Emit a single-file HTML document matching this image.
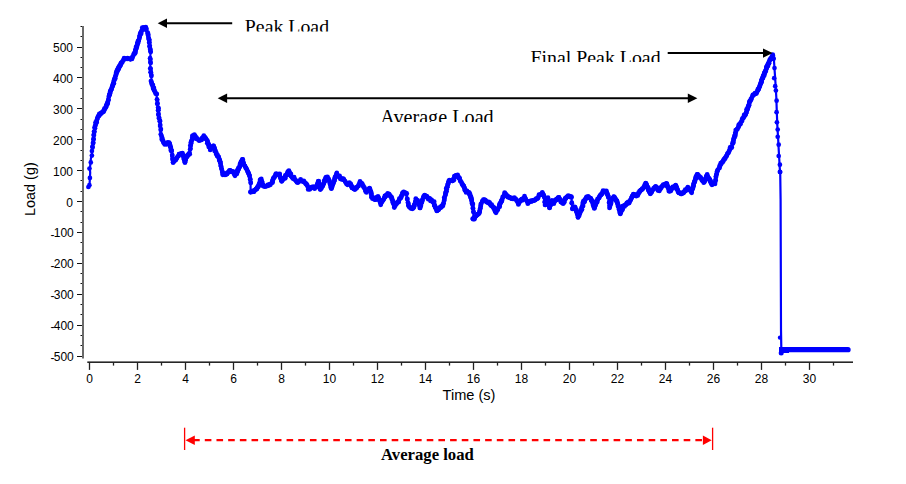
<!DOCTYPE html>
<html><head><meta charset="utf-8"><style>
html,body{margin:0;padding:0;background:#fff;}
svg{display:block;}
.tl{font-family:"Liberation Sans",Arial,sans-serif;font-size:12px;fill:#000;}
.ax{font-family:"Liberation Sans",Arial,sans-serif;font-size:14.6px;fill:#000;}
.an{font-family:"Liberation Serif","Times New Roman",serif;font-size:19.85px;fill:#000;}
.bl{font-family:"Liberation Serif","Times New Roman",serif;font-size:16.7px;font-weight:bold;fill:#000;}
</style></head><body>
<svg width="906" height="484" viewBox="0 0 906 484">
<rect width="906" height="484" fill="#fff"/>
<rect x="82" y="26" width="2" height="332.5" fill="#6a6a6a"/>
<rect x="87.3" y="361.4" width="765.7" height="1.6" fill="#262626"/>
<line x1="77" y1="356.50" x2="82" y2="356.50" stroke="#111" stroke-width="1"/>
<text x="73" y="361.00" class="tl" text-anchor="end"><tspan dx="0.8" dy="1.2">-</tspan><tspan dx="-0.8" dy="-1.2">500</tspan></text>
<line x1="77" y1="325.50" x2="82" y2="325.50" stroke="#111" stroke-width="1"/>
<text x="73" y="330.10" class="tl" text-anchor="end"><tspan dx="0.8" dy="1.2">-</tspan><tspan dx="-0.8" dy="-1.2">400</tspan></text>
<line x1="77" y1="294.50" x2="82" y2="294.50" stroke="#111" stroke-width="1"/>
<text x="73" y="299.20" class="tl" text-anchor="end"><tspan dx="0.8" dy="1.2">-</tspan><tspan dx="-0.8" dy="-1.2">300</tspan></text>
<line x1="77" y1="263.50" x2="82" y2="263.50" stroke="#111" stroke-width="1"/>
<text x="73" y="268.30" class="tl" text-anchor="end"><tspan dx="0.8" dy="1.2">-</tspan><tspan dx="-0.8" dy="-1.2">200</tspan></text>
<line x1="77" y1="232.50" x2="82" y2="232.50" stroke="#111" stroke-width="1"/>
<text x="73" y="237.40" class="tl" text-anchor="end"><tspan dx="0.8" dy="1.2">-</tspan><tspan dx="-0.8" dy="-1.2">100</tspan></text>
<line x1="77" y1="201.50" x2="82" y2="201.50" stroke="#111" stroke-width="1"/>
<text x="73" y="206.50" class="tl" text-anchor="end">0</text>
<line x1="77" y1="170.50" x2="82" y2="170.50" stroke="#111" stroke-width="1"/>
<text x="73" y="175.60" class="tl" text-anchor="end">100</text>
<line x1="77" y1="139.50" x2="82" y2="139.50" stroke="#111" stroke-width="1"/>
<text x="73" y="144.70" class="tl" text-anchor="end">200</text>
<line x1="77" y1="108.50" x2="82" y2="108.50" stroke="#111" stroke-width="1"/>
<text x="73" y="113.80" class="tl" text-anchor="end">300</text>
<line x1="77" y1="77.50" x2="82" y2="77.50" stroke="#111" stroke-width="1"/>
<text x="73" y="82.90" class="tl" text-anchor="end">400</text>
<line x1="77" y1="47.50" x2="82" y2="47.50" stroke="#111" stroke-width="1"/>
<text x="73" y="52.00" class="tl" text-anchor="end">500</text>
<line x1="80.5" y1="345.50" x2="82" y2="345.50" stroke="#111" stroke-width="1"/>
<line x1="80.5" y1="335.50" x2="82" y2="335.50" stroke="#111" stroke-width="1"/>
<line x1="80.5" y1="314.50" x2="82" y2="314.50" stroke="#111" stroke-width="1"/>
<line x1="80.5" y1="304.50" x2="82" y2="304.50" stroke="#111" stroke-width="1"/>
<line x1="80.5" y1="283.50" x2="82" y2="283.50" stroke="#111" stroke-width="1"/>
<line x1="80.5" y1="273.50" x2="82" y2="273.50" stroke="#111" stroke-width="1"/>
<line x1="80.5" y1="253.50" x2="82" y2="253.50" stroke="#111" stroke-width="1"/>
<line x1="80.5" y1="242.50" x2="82" y2="242.50" stroke="#111" stroke-width="1"/>
<line x1="80.5" y1="222.50" x2="82" y2="222.50" stroke="#111" stroke-width="1"/>
<line x1="80.5" y1="211.50" x2="82" y2="211.50" stroke="#111" stroke-width="1"/>
<line x1="80.5" y1="191.50" x2="82" y2="191.50" stroke="#111" stroke-width="1"/>
<line x1="80.5" y1="180.50" x2="82" y2="180.50" stroke="#111" stroke-width="1"/>
<line x1="80.5" y1="160.50" x2="82" y2="160.50" stroke="#111" stroke-width="1"/>
<line x1="80.5" y1="150.50" x2="82" y2="150.50" stroke="#111" stroke-width="1"/>
<line x1="80.5" y1="129.50" x2="82" y2="129.50" stroke="#111" stroke-width="1"/>
<line x1="80.5" y1="119.50" x2="82" y2="119.50" stroke="#111" stroke-width="1"/>
<line x1="80.5" y1="98.50" x2="82" y2="98.50" stroke="#111" stroke-width="1"/>
<line x1="80.5" y1="88.50" x2="82" y2="88.50" stroke="#111" stroke-width="1"/>
<line x1="80.5" y1="67.50" x2="82" y2="67.50" stroke="#111" stroke-width="1"/>
<line x1="80.5" y1="57.50" x2="82" y2="57.50" stroke="#111" stroke-width="1"/>
<line x1="80.5" y1="36.50" x2="82" y2="36.50" stroke="#111" stroke-width="1"/>
<line x1="80.5" y1="26.50" x2="82" y2="26.50" stroke="#111" stroke-width="1"/>
<line x1="89.50" y1="362" x2="89.50" y2="369.9" stroke="#222" stroke-width="1.3"/>
<text x="89.50" y="383.2" class="tl" text-anchor="middle">0</text>
<line x1="113.50" y1="362" x2="113.50" y2="365.6" stroke="#222" stroke-width="1.3"/>
<line x1="137.50" y1="362" x2="137.50" y2="369.9" stroke="#222" stroke-width="1.3"/>
<text x="137.50" y="383.2" class="tl" text-anchor="middle">2</text>
<line x1="161.50" y1="362" x2="161.50" y2="365.6" stroke="#222" stroke-width="1.3"/>
<line x1="185.50" y1="362" x2="185.50" y2="369.9" stroke="#222" stroke-width="1.3"/>
<text x="185.50" y="383.2" class="tl" text-anchor="middle">4</text>
<line x1="209.50" y1="362" x2="209.50" y2="365.6" stroke="#222" stroke-width="1.3"/>
<line x1="233.50" y1="362" x2="233.50" y2="369.9" stroke="#222" stroke-width="1.3"/>
<text x="233.50" y="383.2" class="tl" text-anchor="middle">6</text>
<line x1="257.50" y1="362" x2="257.50" y2="365.6" stroke="#222" stroke-width="1.3"/>
<line x1="281.50" y1="362" x2="281.50" y2="369.9" stroke="#222" stroke-width="1.3"/>
<text x="281.50" y="383.2" class="tl" text-anchor="middle">8</text>
<line x1="305.50" y1="362" x2="305.50" y2="365.6" stroke="#222" stroke-width="1.3"/>
<line x1="329.50" y1="362" x2="329.50" y2="369.9" stroke="#222" stroke-width="1.3"/>
<text x="329.50" y="383.2" class="tl" text-anchor="middle">10</text>
<line x1="353.50" y1="362" x2="353.50" y2="365.6" stroke="#222" stroke-width="1.3"/>
<line x1="377.50" y1="362" x2="377.50" y2="369.9" stroke="#222" stroke-width="1.3"/>
<text x="377.50" y="383.2" class="tl" text-anchor="middle">12</text>
<line x1="401.50" y1="362" x2="401.50" y2="365.6" stroke="#222" stroke-width="1.3"/>
<line x1="425.50" y1="362" x2="425.50" y2="369.9" stroke="#222" stroke-width="1.3"/>
<text x="425.50" y="383.2" class="tl" text-anchor="middle">14</text>
<line x1="449.50" y1="362" x2="449.50" y2="365.6" stroke="#222" stroke-width="1.3"/>
<line x1="473.50" y1="362" x2="473.50" y2="369.9" stroke="#222" stroke-width="1.3"/>
<text x="473.50" y="383.2" class="tl" text-anchor="middle">16</text>
<line x1="497.50" y1="362" x2="497.50" y2="365.6" stroke="#222" stroke-width="1.3"/>
<line x1="521.50" y1="362" x2="521.50" y2="369.9" stroke="#222" stroke-width="1.3"/>
<text x="521.50" y="383.2" class="tl" text-anchor="middle">18</text>
<line x1="545.50" y1="362" x2="545.50" y2="365.6" stroke="#222" stroke-width="1.3"/>
<line x1="569.50" y1="362" x2="569.50" y2="369.9" stroke="#222" stroke-width="1.3"/>
<text x="569.50" y="383.2" class="tl" text-anchor="middle">20</text>
<line x1="593.50" y1="362" x2="593.50" y2="365.6" stroke="#222" stroke-width="1.3"/>
<line x1="617.50" y1="362" x2="617.50" y2="369.9" stroke="#222" stroke-width="1.3"/>
<text x="617.50" y="383.2" class="tl" text-anchor="middle">22</text>
<line x1="641.50" y1="362" x2="641.50" y2="365.6" stroke="#222" stroke-width="1.3"/>
<line x1="665.50" y1="362" x2="665.50" y2="369.9" stroke="#222" stroke-width="1.3"/>
<text x="665.50" y="383.2" class="tl" text-anchor="middle">24</text>
<line x1="689.50" y1="362" x2="689.50" y2="365.6" stroke="#222" stroke-width="1.3"/>
<line x1="713.50" y1="362" x2="713.50" y2="369.9" stroke="#222" stroke-width="1.3"/>
<text x="713.50" y="383.2" class="tl" text-anchor="middle">26</text>
<line x1="737.50" y1="362" x2="737.50" y2="365.6" stroke="#222" stroke-width="1.3"/>
<line x1="761.50" y1="362" x2="761.50" y2="369.9" stroke="#222" stroke-width="1.3"/>
<text x="761.50" y="383.2" class="tl" text-anchor="middle">28</text>
<line x1="785.50" y1="362" x2="785.50" y2="365.6" stroke="#222" stroke-width="1.3"/>
<line x1="809.50" y1="362" x2="809.50" y2="369.9" stroke="#222" stroke-width="1.3"/>
<text x="809.50" y="383.2" class="tl" text-anchor="middle">30</text>
<line x1="833.50" y1="362" x2="833.50" y2="365.6" stroke="#222" stroke-width="1.3"/>
<text x="469" y="400" class="ax" text-anchor="middle">Time (s)</text>
<text transform="translate(34.9,215.9) rotate(-90)" class="ax" style="font-size:14.4px">Load (g)</text>
<polyline points="88.4,187.0 89.6,184.0 89.9,177.9 90.2,172.7 89.8,168.6 90.6,162.4 90.9,158.3 91.9,155.2 92.1,151.0 92.6,147.5 94.0,135.1 95.5,124.8 97.6,117.6 100.7,113.4 103.8,111.4 105.8,107.2 107.9,102.0 108.9,96.4 113.0,84.0 116.2,73.7 120.3,64.4 124.4,58.8 129.6,58.8 131.0,59.3 134.1,54.1 136.9,46.9 139.0,39.6 140.9,32.4 142.7,28.6 145.0,27.6 147.0,29.2 147.7,33.4 149.0,39.6 149.8,45.8 150.7,52.0 150.1,58.2 150.3,62.1 150.3,68.3 151.4,76.0 151.4,81.7 152.9,86.9 154.5,91.0 156.5,94.1 157.0,99.3 157.6,103.4 158.1,107.5 158.1,110.3 160.2,124.8 161.2,135.1 162.6,140.3 164.7,144.4 167.8,142.4 169.9,144.4 171.7,151.0 173.1,162.4 176.2,159.3 179.3,154.1 182.4,153.1 184.9,162.4 186.5,156.2 189.6,153.1 190.7,145.8 192.7,135.5 194.8,135.5 197.9,139.6 201.0,140.7 204.1,136.1 207.2,140.7 210.3,148.9 213.4,145.8 215.5,151.0 218.6,157.2 220.6,163.4 222.7,174.8 225.8,174.8 229.9,170.6 233.0,171.7 235.7,175.8 239.2,167.5 242.3,159.3 244.0,164.4 247.5,170.6 249.5,175.8 250.6,182.0 250.6,192.3 253.7,191.3 257.8,187.1 261.3,178.9 263.0,186.1 267.1,186.1 271.4,184.4 273.4,178.2 276.5,174.1 279.6,175.1 281.7,181.3 284.8,177.2 288.9,170.6 291.0,176.2 294.1,178.2 297.2,182.4 300.3,180.3 303.4,181.3 306.5,184.4 308.6,188.6 312.7,187.5 315.8,187.5 318.5,181.3 320.3,189.6 323.0,185.5 326.1,177.2 328.6,178.2 331.3,188.6 334.0,181.3 336.4,174.1 339.5,177.2 342.6,179.3 344.7,180.3 346.8,184.4 349.9,182.4 351.9,187.5 355.0,189.6 357.1,187.5 360.3,182.0 363.4,186.2 366.5,192.4 369.6,188.2 371.7,196.5 374.8,199.6 377.9,196.5 381.0,203.7 384.1,198.6 387.2,194.4 390.3,195.5 392.4,199.6 394.4,206.8 397.5,202.7 400.6,197.5 404.1,190.9 406.8,195.5 408.5,205.8 411.0,208.9 414.0,206.8 416.1,199.6 418.2,200.6 420.2,207.9 422.3,199.6 424.4,195.5 427.5,197.5 430.6,199.6 433.7,202.7 436.8,211.0 439.9,207.9 443.0,205.8 445.2,195.5 447.2,187.2 449.3,180.0 452.4,181.0 454.5,176.9 457.6,174.8 460.7,181.0 463.8,186.2 465.8,191.3 468.9,192.4 471.0,198.6 472.6,204.8 473.5,212.0 473.1,219.2 476.2,216.1 479.3,213.0 481.3,203.7 483.4,199.6 486.5,201.7 489.6,203.7 492.7,206.8 495.8,212.0 498.9,206.8 502.0,199.6 505.1,193.4 508.2,196.5 511.3,198.6 514.4,197.5 518.5,203.7 521.6,199.6 524.7,197.5 527.8,202.7 530.9,201.7 534.0,200.6 537.2,198.6 539.3,195.5 542.4,193.0 544.5,197.5 545.5,204.8 547.6,198.6 549.6,207.9 551.7,200.6 553.8,203.7 555.8,199.6 558.9,197.5 561.0,201.7 563.1,203.7 565.1,198.6 568.2,195.5 571.3,196.5 572.4,208.9 574.4,206.8 576.5,209.9 577.9,217.1 580.6,212.0 582.7,204.8 584.8,199.6 587.9,197.1 590.9,198.6 593.0,203.7 594.5,207.9 597.1,200.6 600.2,195.5 603.3,191.3 606.4,190.9 608.5,197.5 609.5,207.9 611.6,199.6 613.7,196.5 616.8,200.6 618.8,207.9 620.3,214.0 623.1,206.4 626.2,204.4 629.3,202.3 631.4,198.2 633.4,194.0 636.5,196.1 639.6,191.0 642.7,188.9 645.8,183.3 647.9,187.9 650.6,193.6 653.1,188.9 656.2,185.8 659.3,191.0 662.4,185.8 666.5,183.3 669.6,191.0 672.7,187.9 675.8,185.8 678.9,193.0 682.0,193.0 685.1,191.0 688.2,187.9 691.3,192.0 694.4,181.7 697.5,174.4 700.6,177.5 703.7,182.7 706.8,175.5 709.9,179.6 711.9,184.8 715.0,182.7 717.1,171.3 719.6,167.1 722.7,161.0 725.8,156.8 728.9,151.7 732.0,145.5 734.1,138.2 736.2,131.0 739.3,124.8 742.4,119.6 745.5,114.5 747.5,109.3 749.8,101.1 753.1,95.3 757.2,92.0 759.7,86.2 761.3,81.2 763.8,74.6 766.3,68.8 768.8,62.2 771.2,57.3 772.9,55.6 774.0,61.0 774.6,70.0 775.4,82.0 776.3,97.0 776.8,112.0 777.3,125.0 778.2,140.0 779.0,155.0 779.9,170.0 780.2,172.0" fill="none" stroke="#0000ff" stroke-width="2.2" stroke-linejoin="round" stroke-linecap="round"/>
<g fill="#0000ff"><circle cx="92.6" cy="147.5" r="2.35"/><circle cx="92.4" cy="146.6" r="2.35"/><circle cx="93.1" cy="143.4" r="2.35"/><circle cx="93.2" cy="142.3" r="2.35"/><circle cx="93.5" cy="139.2" r="2.35"/><circle cx="93.6" cy="138.9" r="2.35"/><circle cx="94.0" cy="135.1" r="2.35"/><circle cx="93.6" cy="135.1" r="2.35"/><circle cx="94.5" cy="131.7" r="2.35"/><circle cx="94.0" cy="131.5" r="2.35"/><circle cx="95.0" cy="128.2" r="2.35"/><circle cx="94.6" cy="127.2" r="2.35"/><circle cx="95.5" cy="124.8" r="2.35"/><circle cx="95.4" cy="125.6" r="2.35"/><circle cx="96.0" cy="123.0" r="2.35"/><circle cx="95.6" cy="122.3" r="2.35"/><circle cx="96.5" cy="121.2" r="2.35"/><circle cx="96.7" cy="122.4" r="2.35"/><circle cx="97.1" cy="119.4" r="2.35"/><circle cx="97.2" cy="119.1" r="2.35"/><circle cx="97.6" cy="117.6" r="2.35"/><circle cx="98.1" cy="116.4" r="2.35"/><circle cx="98.6" cy="116.2" r="2.35"/><circle cx="99.0" cy="115.7" r="2.35"/><circle cx="99.7" cy="114.8" r="2.35"/><circle cx="99.3" cy="113.8" r="2.35"/><circle cx="100.7" cy="113.4" r="2.35"/><circle cx="100.5" cy="114.2" r="2.35"/><circle cx="101.7" cy="112.7" r="2.35"/><circle cx="101.4" cy="112.9" r="2.35"/><circle cx="102.8" cy="112.1" r="2.35"/><circle cx="102.9" cy="111.7" r="2.35"/><circle cx="103.8" cy="111.4" r="2.35"/><circle cx="103.8" cy="110.3" r="2.35"/><circle cx="104.8" cy="109.3" r="2.35"/><circle cx="104.4" cy="108.5" r="2.35"/><circle cx="105.8" cy="107.2" r="2.35"/><circle cx="106.0" cy="107.0" r="2.35"/><circle cx="106.3" cy="105.9" r="2.35"/><circle cx="106.1" cy="106.1" r="2.35"/><circle cx="106.8" cy="104.6" r="2.35"/><circle cx="106.8" cy="104.1" r="2.35"/><circle cx="107.4" cy="103.3" r="2.35"/><circle cx="107.7" cy="103.8" r="2.35"/><circle cx="107.9" cy="102.0" r="2.35"/><circle cx="107.6" cy="102.2" r="2.35"/><circle cx="108.4" cy="99.2" r="2.35"/><circle cx="108.4" cy="100.2" r="2.35"/><circle cx="108.9" cy="96.4" r="2.35"/><circle cx="109.1" cy="95.8" r="2.35"/><circle cx="109.4" cy="94.9" r="2.35"/><circle cx="109.9" cy="93.9" r="2.35"/><circle cx="109.9" cy="93.3" r="2.35"/><circle cx="109.8" cy="94.0" r="2.35"/><circle cx="110.4" cy="91.8" r="2.35"/><circle cx="110.1" cy="91.7" r="2.35"/><circle cx="111.0" cy="90.2" r="2.35"/><circle cx="110.5" cy="90.6" r="2.35"/><circle cx="111.5" cy="88.7" r="2.35"/><circle cx="111.7" cy="88.8" r="2.35"/><circle cx="112.0" cy="87.1" r="2.35"/><circle cx="112.4" cy="86.6" r="2.35"/><circle cx="112.5" cy="85.5" r="2.35"/><circle cx="112.7" cy="85.8" r="2.35"/><circle cx="113.0" cy="84.0" r="2.35"/><circle cx="113.1" cy="83.9" r="2.35"/><circle cx="113.5" cy="82.3" r="2.35"/><circle cx="113.9" cy="83.4" r="2.35"/><circle cx="114.1" cy="80.6" r="2.35"/><circle cx="114.0" cy="81.0" r="2.35"/><circle cx="114.6" cy="78.8" r="2.35"/><circle cx="114.2" cy="79.4" r="2.35"/><circle cx="115.1" cy="77.1" r="2.35"/><circle cx="115.3" cy="78.4" r="2.35"/><circle cx="115.7" cy="75.4" r="2.35"/><circle cx="116.0" cy="74.9" r="2.35"/><circle cx="116.2" cy="73.7" r="2.35"/><circle cx="116.1" cy="74.1" r="2.35"/><circle cx="116.7" cy="72.5" r="2.35"/><circle cx="116.2" cy="72.4" r="2.35"/><circle cx="117.2" cy="71.4" r="2.35"/><circle cx="116.9" cy="70.4" r="2.35"/><circle cx="117.7" cy="70.2" r="2.35"/><circle cx="117.3" cy="70.9" r="2.35"/><circle cx="118.2" cy="69.1" r="2.35"/><circle cx="117.9" cy="68.4" r="2.35"/><circle cx="118.8" cy="67.9" r="2.35"/><circle cx="118.7" cy="68.9" r="2.35"/><circle cx="119.3" cy="66.7" r="2.35"/><circle cx="118.9" cy="66.6" r="2.35"/><circle cx="119.8" cy="65.6" r="2.35"/><circle cx="119.8" cy="66.6" r="2.35"/><circle cx="120.3" cy="64.4" r="2.35"/><circle cx="120.6" cy="65.3" r="2.35"/><circle cx="121.3" cy="63.0" r="2.35"/><circle cx="121.1" cy="62.8" r="2.35"/><circle cx="122.3" cy="61.6" r="2.35"/><circle cx="122.2" cy="62.6" r="2.35"/><circle cx="123.4" cy="60.2" r="2.35"/><circle cx="123.8" cy="59.3" r="2.35"/><circle cx="124.4" cy="58.8" r="2.35"/><circle cx="124.1" cy="58.1" r="2.35"/><circle cx="126.0" cy="58.8" r="2.35"/><circle cx="125.7" cy="58.8" r="2.35"/><circle cx="127.5" cy="58.8" r="2.35"/><circle cx="127.6" cy="58.2" r="2.35"/><circle cx="129.1" cy="58.8" r="2.35"/><circle cx="128.6" cy="58.6" r="2.35"/><circle cx="130.5" cy="59.1" r="2.35"/><circle cx="130.4" cy="59.3" r="2.35"/><circle cx="131.5" cy="58.4" r="2.35"/><circle cx="132.0" cy="58.9" r="2.35"/><circle cx="132.6" cy="56.7" r="2.35"/><circle cx="132.6" cy="57.0" r="2.35"/><circle cx="133.6" cy="55.0" r="2.35"/><circle cx="133.8" cy="53.8" r="2.35"/><circle cx="134.6" cy="52.9" r="2.35"/><circle cx="135.0" cy="53.6" r="2.35"/><circle cx="135.0" cy="51.7" r="2.35"/><circle cx="135.4" cy="52.5" r="2.35"/><circle cx="135.5" cy="50.5" r="2.35"/><circle cx="135.4" cy="50.2" r="2.35"/><circle cx="136.0" cy="49.3" r="2.35"/><circle cx="135.6" cy="49.6" r="2.35"/><circle cx="136.4" cy="48.1" r="2.35"/><circle cx="136.0" cy="47.0" r="2.35"/><circle cx="136.9" cy="46.9" r="2.35"/><circle cx="136.6" cy="46.0" r="2.35"/><circle cx="137.4" cy="45.1" r="2.35"/><circle cx="137.3" cy="43.9" r="2.35"/><circle cx="137.9" cy="43.2" r="2.35"/><circle cx="137.5" cy="42.3" r="2.35"/><circle cx="138.5" cy="41.4" r="2.35"/><circle cx="138.1" cy="41.1" r="2.35"/><circle cx="139.0" cy="39.6" r="2.35"/><circle cx="138.5" cy="40.6" r="2.35"/><circle cx="139.5" cy="37.8" r="2.35"/><circle cx="139.6" cy="36.9" r="2.35"/><circle cx="139.9" cy="36.0" r="2.35"/><circle cx="139.7" cy="35.6" r="2.35"/><circle cx="140.4" cy="34.2" r="2.35"/><circle cx="140.3" cy="33.2" r="2.35"/><circle cx="140.9" cy="32.4" r="2.35"/><circle cx="141.2" cy="33.7" r="2.35"/><circle cx="141.8" cy="30.5" r="2.35"/><circle cx="141.8" cy="30.5" r="2.35"/><circle cx="142.7" cy="28.6" r="2.35"/><circle cx="142.3" cy="27.6" r="2.35"/><circle cx="144.1" cy="28.0" r="2.35"/><circle cx="143.9" cy="27.4" r="2.35"/><circle cx="145.5" cy="28.0" r="2.35"/><circle cx="145.8" cy="27.1" r="2.35"/><circle cx="146.5" cy="28.8" r="2.35"/><circle cx="146.0" cy="30.0" r="2.35"/><circle cx="147.7" cy="33.4" r="2.35"/><circle cx="147.7" cy="32.5" r="2.35"/><circle cx="148.1" cy="35.5" r="2.35"/><circle cx="148.2" cy="34.2" r="2.35"/><circle cx="148.6" cy="37.5" r="2.35"/><circle cx="148.6" cy="38.8" r="2.35"/><circle cx="149.0" cy="39.6" r="2.35"/><circle cx="149.4" cy="40.1" r="2.35"/><circle cx="149.4" cy="42.7" r="2.35"/><circle cx="149.2" cy="42.4" r="2.35"/><circle cx="149.8" cy="45.8" r="2.35"/><circle cx="149.5" cy="46.5" r="2.35"/><circle cx="150.2" cy="48.9" r="2.35"/><circle cx="150.3" cy="49.6" r="2.35"/><circle cx="150.7" cy="52.0" r="2.35"/><circle cx="150.5" cy="51.3" r="2.35"/><circle cx="150.1" cy="58.2" r="2.35"/><circle cx="150.4" cy="59.5" r="2.35"/><circle cx="150.3" cy="62.1" r="2.35"/><circle cx="150.7" cy="62.9" r="2.35"/><circle cx="150.3" cy="68.3" r="2.35"/><circle cx="150.6" cy="68.9" r="2.35"/><circle cx="150.9" cy="72.2" r="2.35"/><circle cx="150.6" cy="72.2" r="2.35"/><circle cx="151.4" cy="76.0" r="2.35"/><circle cx="151.3" cy="74.8" r="2.35"/><circle cx="151.4" cy="81.7" r="2.35"/><circle cx="150.9" cy="81.1" r="2.35"/><circle cx="151.9" cy="83.4" r="2.35"/><circle cx="151.7" cy="83.9" r="2.35"/><circle cx="152.4" cy="85.2" r="2.35"/><circle cx="152.9" cy="85.0" r="2.35"/><circle cx="152.9" cy="86.9" r="2.35"/><circle cx="153.3" cy="88.2" r="2.35"/><circle cx="153.4" cy="88.3" r="2.35"/><circle cx="153.9" cy="87.9" r="2.35"/><circle cx="154.0" cy="89.6" r="2.35"/><circle cx="153.7" cy="88.9" r="2.35"/><circle cx="154.5" cy="91.0" r="2.35"/><circle cx="154.2" cy="90.2" r="2.35"/><circle cx="155.5" cy="92.5" r="2.35"/><circle cx="155.6" cy="93.6" r="2.35"/><circle cx="156.5" cy="94.1" r="2.35"/><circle cx="156.8" cy="94.0" r="2.35"/><circle cx="157.0" cy="99.3" r="2.35"/><circle cx="157.2" cy="100.1" r="2.35"/><circle cx="157.6" cy="103.4" r="2.35"/><circle cx="157.2" cy="103.8" r="2.35"/><circle cx="158.1" cy="107.5" r="2.35"/><circle cx="158.5" cy="108.2" r="2.35"/><circle cx="158.1" cy="110.3" r="2.35"/><circle cx="158.4" cy="110.2" r="2.35"/><circle cx="158.6" cy="113.9" r="2.35"/><circle cx="158.3" cy="114.7" r="2.35"/><circle cx="159.1" cy="117.5" r="2.35"/><circle cx="159.0" cy="118.3" r="2.35"/><circle cx="159.7" cy="121.2" r="2.35"/><circle cx="160.1" cy="120.9" r="2.35"/><circle cx="160.2" cy="124.8" r="2.35"/><circle cx="160.1" cy="126.0" r="2.35"/><circle cx="160.7" cy="129.9" r="2.35"/><circle cx="160.9" cy="129.1" r="2.35"/><circle cx="161.2" cy="135.1" r="2.35"/><circle cx="160.8" cy="134.2" r="2.35"/><circle cx="161.7" cy="136.8" r="2.35"/><circle cx="162.1" cy="137.6" r="2.35"/><circle cx="162.1" cy="138.6" r="2.35"/><circle cx="161.8" cy="139.4" r="2.35"/><circle cx="162.6" cy="140.3" r="2.35"/><circle cx="163.1" cy="140.7" r="2.35"/><circle cx="163.6" cy="142.4" r="2.35"/><circle cx="163.5" cy="142.5" r="2.35"/><circle cx="164.7" cy="144.4" r="2.35"/><circle cx="164.3" cy="143.1" r="2.35"/><circle cx="165.7" cy="143.7" r="2.35"/><circle cx="166.2" cy="144.1" r="2.35"/><circle cx="166.8" cy="143.1" r="2.35"/><circle cx="166.8" cy="144.2" r="2.35"/><circle cx="167.8" cy="142.4" r="2.35"/><circle cx="167.7" cy="143.4" r="2.35"/><circle cx="168.9" cy="143.4" r="2.35"/><circle cx="169.2" cy="142.6" r="2.35"/><circle cx="169.9" cy="144.4" r="2.35"/><circle cx="169.7" cy="143.9" r="2.35"/><circle cx="170.3" cy="146.1" r="2.35"/><circle cx="170.1" cy="146.3" r="2.35"/><circle cx="170.8" cy="147.7" r="2.35"/><circle cx="170.6" cy="147.5" r="2.35"/><circle cx="171.2" cy="149.3" r="2.35"/><circle cx="170.9" cy="150.4" r="2.35"/><circle cx="171.7" cy="151.0" r="2.35"/><circle cx="171.6" cy="150.9" r="2.35"/><circle cx="172.2" cy="154.8" r="2.35"/><circle cx="172.3" cy="155.9" r="2.35"/><circle cx="172.6" cy="158.6" r="2.35"/><circle cx="172.6" cy="159.7" r="2.35"/><circle cx="173.1" cy="162.4" r="2.35"/><circle cx="173.1" cy="162.5" r="2.35"/><circle cx="174.1" cy="161.4" r="2.35"/><circle cx="174.2" cy="160.1" r="2.35"/><circle cx="175.2" cy="160.3" r="2.35"/><circle cx="175.1" cy="159.5" r="2.35"/><circle cx="176.2" cy="159.3" r="2.35"/><circle cx="175.7" cy="160.1" r="2.35"/><circle cx="177.2" cy="157.6" r="2.35"/><circle cx="176.9" cy="157.5" r="2.35"/><circle cx="178.3" cy="155.8" r="2.35"/><circle cx="178.5" cy="156.0" r="2.35"/><circle cx="179.3" cy="154.1" r="2.35"/><circle cx="179.1" cy="154.1" r="2.35"/><circle cx="180.9" cy="153.6" r="2.35"/><circle cx="180.9" cy="154.3" r="2.35"/><circle cx="182.4" cy="153.1" r="2.35"/><circle cx="182.0" cy="153.3" r="2.35"/><circle cx="182.9" cy="155.0" r="2.35"/><circle cx="182.6" cy="154.4" r="2.35"/><circle cx="183.4" cy="156.8" r="2.35"/><circle cx="183.7" cy="156.8" r="2.35"/><circle cx="183.9" cy="158.7" r="2.35"/><circle cx="184.0" cy="159.4" r="2.35"/><circle cx="184.4" cy="160.5" r="2.35"/><circle cx="184.8" cy="160.4" r="2.35"/><circle cx="184.9" cy="162.4" r="2.35"/><circle cx="185.0" cy="162.4" r="2.35"/><circle cx="185.4" cy="160.3" r="2.35"/><circle cx="185.4" cy="160.8" r="2.35"/><circle cx="186.0" cy="158.3" r="2.35"/><circle cx="185.9" cy="158.4" r="2.35"/><circle cx="186.5" cy="156.2" r="2.35"/><circle cx="186.5" cy="157.3" r="2.35"/><circle cx="187.5" cy="155.2" r="2.35"/><circle cx="187.7" cy="156.1" r="2.35"/><circle cx="188.6" cy="154.1" r="2.35"/><circle cx="189.0" cy="153.5" r="2.35"/><circle cx="189.6" cy="153.1" r="2.35"/><circle cx="189.7" cy="154.3" r="2.35"/><circle cx="190.1" cy="149.4" r="2.35"/><circle cx="190.5" cy="148.5" r="2.35"/><circle cx="190.7" cy="145.8" r="2.35"/><circle cx="190.3" cy="145.6" r="2.35"/><circle cx="191.2" cy="143.2" r="2.35"/><circle cx="190.8" cy="142.6" r="2.35"/><circle cx="191.7" cy="140.7" r="2.35"/><circle cx="191.3" cy="141.1" r="2.35"/><circle cx="192.2" cy="138.1" r="2.35"/><circle cx="192.5" cy="139.1" r="2.35"/><circle cx="192.7" cy="135.5" r="2.35"/><circle cx="192.4" cy="136.1" r="2.35"/><circle cx="194.3" cy="135.5" r="2.35"/><circle cx="194.4" cy="134.6" r="2.35"/><circle cx="195.3" cy="136.2" r="2.35"/><circle cx="195.7" cy="137.4" r="2.35"/><circle cx="196.4" cy="137.6" r="2.35"/><circle cx="196.1" cy="138.7" r="2.35"/><circle cx="197.4" cy="138.9" r="2.35"/><circle cx="197.3" cy="138.9" r="2.35"/><circle cx="198.4" cy="139.8" r="2.35"/><circle cx="198.9" cy="140.6" r="2.35"/><circle cx="200.0" cy="140.3" r="2.35"/><circle cx="199.6" cy="140.2" r="2.35"/><circle cx="201.5" cy="139.9" r="2.35"/><circle cx="201.5" cy="139.5" r="2.35"/><circle cx="202.6" cy="138.4" r="2.35"/><circle cx="202.2" cy="137.9" r="2.35"/><circle cx="203.6" cy="136.9" r="2.35"/><circle cx="203.8" cy="135.6" r="2.35"/><circle cx="205.1" cy="137.6" r="2.35"/><circle cx="205.2" cy="137.5" r="2.35"/><circle cx="206.2" cy="139.2" r="2.35"/><circle cx="205.7" cy="138.7" r="2.35"/><circle cx="207.2" cy="140.7" r="2.35"/><circle cx="207.3" cy="140.7" r="2.35"/><circle cx="207.7" cy="142.1" r="2.35"/><circle cx="207.3" cy="143.3" r="2.35"/><circle cx="208.2" cy="143.4" r="2.35"/><circle cx="208.5" cy="144.7" r="2.35"/><circle cx="208.8" cy="144.8" r="2.35"/><circle cx="208.4" cy="144.2" r="2.35"/><circle cx="209.3" cy="146.2" r="2.35"/><circle cx="208.8" cy="146.9" r="2.35"/><circle cx="209.8" cy="147.5" r="2.35"/><circle cx="209.6" cy="146.6" r="2.35"/><circle cx="210.3" cy="148.9" r="2.35"/><circle cx="210.2" cy="150.0" r="2.35"/><circle cx="211.3" cy="147.9" r="2.35"/><circle cx="211.7" cy="147.2" r="2.35"/><circle cx="212.4" cy="146.8" r="2.35"/><circle cx="212.0" cy="147.9" r="2.35"/><circle cx="213.4" cy="145.8" r="2.35"/><circle cx="213.5" cy="146.3" r="2.35"/><circle cx="213.9" cy="147.1" r="2.35"/><circle cx="213.5" cy="145.9" r="2.35"/><circle cx="214.4" cy="148.4" r="2.35"/><circle cx="214.6" cy="148.2" r="2.35"/><circle cx="215.0" cy="149.7" r="2.35"/><circle cx="214.5" cy="150.8" r="2.35"/><circle cx="215.5" cy="151.0" r="2.35"/><circle cx="215.6" cy="151.8" r="2.35"/><circle cx="216.5" cy="153.1" r="2.35"/><circle cx="216.1" cy="154.0" r="2.35"/><circle cx="217.6" cy="155.1" r="2.35"/><circle cx="217.1" cy="156.1" r="2.35"/><circle cx="218.6" cy="157.2" r="2.35"/><circle cx="218.6" cy="156.8" r="2.35"/><circle cx="219.1" cy="158.8" r="2.35"/><circle cx="219.2" cy="159.9" r="2.35"/><circle cx="219.6" cy="160.3" r="2.35"/><circle cx="219.4" cy="159.3" r="2.35"/><circle cx="220.1" cy="161.8" r="2.35"/><circle cx="220.1" cy="161.2" r="2.35"/><circle cx="220.6" cy="163.4" r="2.35"/><circle cx="220.2" cy="162.5" r="2.35"/><circle cx="221.1" cy="166.2" r="2.35"/><circle cx="220.7" cy="165.5" r="2.35"/><circle cx="221.6" cy="169.1" r="2.35"/><circle cx="221.5" cy="168.6" r="2.35"/><circle cx="222.2" cy="172.0" r="2.35"/><circle cx="222.4" cy="171.4" r="2.35"/><circle cx="222.7" cy="174.8" r="2.35"/><circle cx="222.7" cy="174.0" r="2.35"/><circle cx="224.2" cy="174.8" r="2.35"/><circle cx="224.1" cy="173.5" r="2.35"/><circle cx="225.8" cy="174.8" r="2.35"/><circle cx="225.6" cy="173.5" r="2.35"/><circle cx="226.8" cy="173.8" r="2.35"/><circle cx="227.1" cy="173.9" r="2.35"/><circle cx="227.9" cy="172.7" r="2.35"/><circle cx="227.5" cy="172.6" r="2.35"/><circle cx="228.9" cy="171.7" r="2.35"/><circle cx="229.3" cy="170.6" r="2.35"/><circle cx="229.9" cy="170.6" r="2.35"/><circle cx="230.2" cy="170.4" r="2.35"/><circle cx="231.4" cy="171.1" r="2.35"/><circle cx="231.4" cy="172.0" r="2.35"/><circle cx="233.0" cy="171.7" r="2.35"/><circle cx="232.9" cy="171.7" r="2.35"/><circle cx="234.1" cy="173.3" r="2.35"/><circle cx="234.3" cy="174.6" r="2.35"/><circle cx="235.2" cy="175.0" r="2.35"/><circle cx="235.0" cy="175.8" r="2.35"/><circle cx="236.7" cy="173.4" r="2.35"/><circle cx="236.9" cy="173.8" r="2.35"/><circle cx="237.2" cy="172.2" r="2.35"/><circle cx="237.1" cy="171.8" r="2.35"/><circle cx="237.7" cy="171.1" r="2.35"/><circle cx="237.3" cy="170.1" r="2.35"/><circle cx="238.2" cy="169.9" r="2.35"/><circle cx="237.8" cy="170.5" r="2.35"/><circle cx="238.7" cy="168.7" r="2.35"/><circle cx="238.5" cy="167.8" r="2.35"/><circle cx="239.2" cy="167.5" r="2.35"/><circle cx="238.8" cy="168.4" r="2.35"/><circle cx="239.7" cy="166.1" r="2.35"/><circle cx="240.1" cy="166.6" r="2.35"/><circle cx="240.2" cy="164.8" r="2.35"/><circle cx="240.0" cy="164.1" r="2.35"/><circle cx="240.8" cy="163.4" r="2.35"/><circle cx="240.5" cy="163.3" r="2.35"/><circle cx="241.3" cy="162.0" r="2.35"/><circle cx="240.9" cy="161.9" r="2.35"/><circle cx="241.8" cy="160.7" r="2.35"/><circle cx="241.5" cy="161.9" r="2.35"/><circle cx="242.3" cy="159.3" r="2.35"/><circle cx="242.8" cy="159.4" r="2.35"/><circle cx="242.9" cy="161.0" r="2.35"/><circle cx="242.6" cy="162.2" r="2.35"/><circle cx="243.4" cy="162.7" r="2.35"/><circle cx="243.2" cy="162.3" r="2.35"/><circle cx="244.0" cy="164.4" r="2.35"/><circle cx="243.5" cy="164.1" r="2.35"/><circle cx="245.0" cy="166.2" r="2.35"/><circle cx="245.0" cy="166.2" r="2.35"/><circle cx="246.0" cy="167.9" r="2.35"/><circle cx="245.7" cy="168.0" r="2.35"/><circle cx="247.0" cy="169.7" r="2.35"/><circle cx="246.5" cy="169.1" r="2.35"/><circle cx="248.0" cy="171.9" r="2.35"/><circle cx="247.6" cy="171.6" r="2.35"/><circle cx="248.5" cy="173.2" r="2.35"/><circle cx="248.0" cy="172.0" r="2.35"/><circle cx="249.0" cy="174.5" r="2.35"/><circle cx="248.8" cy="173.8" r="2.35"/><circle cx="249.5" cy="175.8" r="2.35"/><circle cx="249.6" cy="175.9" r="2.35"/><circle cx="250.1" cy="178.9" r="2.35"/><circle cx="250.3" cy="179.3" r="2.35"/><circle cx="250.6" cy="182.0" r="2.35"/><circle cx="250.8" cy="183.0" r="2.35"/><circle cx="250.6" cy="192.3" r="2.35"/><circle cx="250.5" cy="191.8" r="2.35"/><circle cx="252.1" cy="191.8" r="2.35"/><circle cx="252.6" cy="190.9" r="2.35"/><circle cx="253.7" cy="191.3" r="2.35"/><circle cx="253.9" cy="191.7" r="2.35"/><circle cx="254.7" cy="190.2" r="2.35"/><circle cx="254.3" cy="191.1" r="2.35"/><circle cx="255.8" cy="189.2" r="2.35"/><circle cx="256.1" cy="189.5" r="2.35"/><circle cx="256.8" cy="188.2" r="2.35"/><circle cx="257.0" cy="189.0" r="2.35"/><circle cx="257.8" cy="187.1" r="2.35"/><circle cx="257.4" cy="187.2" r="2.35"/><circle cx="258.3" cy="185.9" r="2.35"/><circle cx="258.3" cy="186.8" r="2.35"/><circle cx="258.8" cy="184.8" r="2.35"/><circle cx="259.1" cy="185.6" r="2.35"/><circle cx="259.3" cy="183.6" r="2.35"/><circle cx="259.4" cy="184.6" r="2.35"/><circle cx="259.8" cy="182.4" r="2.35"/><circle cx="260.0" cy="182.9" r="2.35"/><circle cx="260.3" cy="181.2" r="2.35"/><circle cx="260.0" cy="180.0" r="2.35"/><circle cx="260.8" cy="180.1" r="2.35"/><circle cx="260.4" cy="179.7" r="2.35"/><circle cx="261.3" cy="178.9" r="2.35"/><circle cx="260.9" cy="179.8" r="2.35"/><circle cx="261.9" cy="181.3" r="2.35"/><circle cx="261.9" cy="181.6" r="2.35"/><circle cx="262.4" cy="183.7" r="2.35"/><circle cx="262.6" cy="184.2" r="2.35"/><circle cx="263.0" cy="186.1" r="2.35"/><circle cx="263.0" cy="184.8" r="2.35"/><circle cx="264.5" cy="186.1" r="2.35"/><circle cx="264.8" cy="186.7" r="2.35"/><circle cx="266.1" cy="186.1" r="2.35"/><circle cx="266.1" cy="186.2" r="2.35"/><circle cx="267.6" cy="185.9" r="2.35"/><circle cx="267.7" cy="184.8" r="2.35"/><circle cx="269.0" cy="185.3" r="2.35"/><circle cx="269.2" cy="184.7" r="2.35"/><circle cx="270.4" cy="184.8" r="2.35"/><circle cx="270.0" cy="184.2" r="2.35"/><circle cx="271.9" cy="182.8" r="2.35"/><circle cx="272.1" cy="182.1" r="2.35"/><circle cx="272.4" cy="181.3" r="2.35"/><circle cx="272.6" cy="182.5" r="2.35"/><circle cx="272.9" cy="179.8" r="2.35"/><circle cx="272.9" cy="179.4" r="2.35"/><circle cx="273.4" cy="178.2" r="2.35"/><circle cx="273.4" cy="178.7" r="2.35"/><circle cx="274.4" cy="176.8" r="2.35"/><circle cx="274.7" cy="177.1" r="2.35"/><circle cx="275.5" cy="175.5" r="2.35"/><circle cx="275.6" cy="174.4" r="2.35"/><circle cx="276.5" cy="174.1" r="2.35"/><circle cx="276.1" cy="173.5" r="2.35"/><circle cx="278.1" cy="174.6" r="2.35"/><circle cx="278.3" cy="174.1" r="2.35"/><circle cx="279.6" cy="175.1" r="2.35"/><circle cx="279.7" cy="173.8" r="2.35"/><circle cx="280.1" cy="176.7" r="2.35"/><circle cx="279.7" cy="176.0" r="2.35"/><circle cx="280.6" cy="178.2" r="2.35"/><circle cx="280.8" cy="178.7" r="2.35"/><circle cx="281.2" cy="179.8" r="2.35"/><circle cx="281.4" cy="179.2" r="2.35"/><circle cx="281.7" cy="181.3" r="2.35"/><circle cx="281.7" cy="181.2" r="2.35"/><circle cx="282.7" cy="179.9" r="2.35"/><circle cx="282.7" cy="178.9" r="2.35"/><circle cx="283.8" cy="178.6" r="2.35"/><circle cx="284.2" cy="177.8" r="2.35"/><circle cx="284.8" cy="177.2" r="2.35"/><circle cx="285.3" cy="178.3" r="2.35"/><circle cx="285.8" cy="175.5" r="2.35"/><circle cx="285.3" cy="175.4" r="2.35"/><circle cx="286.9" cy="173.9" r="2.35"/><circle cx="287.2" cy="175.1" r="2.35"/><circle cx="287.9" cy="172.2" r="2.35"/><circle cx="287.8" cy="171.6" r="2.35"/><circle cx="288.9" cy="170.6" r="2.35"/><circle cx="288.6" cy="171.8" r="2.35"/><circle cx="289.4" cy="172.0" r="2.35"/><circle cx="289.1" cy="172.2" r="2.35"/><circle cx="289.9" cy="173.4" r="2.35"/><circle cx="289.6" cy="173.5" r="2.35"/><circle cx="290.5" cy="174.8" r="2.35"/><circle cx="290.9" cy="173.8" r="2.35"/><circle cx="291.0" cy="176.2" r="2.35"/><circle cx="291.3" cy="176.2" r="2.35"/><circle cx="292.0" cy="176.9" r="2.35"/><circle cx="292.4" cy="177.4" r="2.35"/><circle cx="293.1" cy="177.5" r="2.35"/><circle cx="292.8" cy="178.6" r="2.35"/><circle cx="294.1" cy="178.2" r="2.35"/><circle cx="294.1" cy="177.0" r="2.35"/><circle cx="295.1" cy="179.6" r="2.35"/><circle cx="294.6" cy="179.6" r="2.35"/><circle cx="296.2" cy="181.0" r="2.35"/><circle cx="296.1" cy="180.5" r="2.35"/><circle cx="297.2" cy="182.4" r="2.35"/><circle cx="296.8" cy="182.0" r="2.35"/><circle cx="298.2" cy="181.7" r="2.35"/><circle cx="298.0" cy="182.6" r="2.35"/><circle cx="299.3" cy="181.0" r="2.35"/><circle cx="298.8" cy="181.7" r="2.35"/><circle cx="300.3" cy="180.3" r="2.35"/><circle cx="300.6" cy="179.3" r="2.35"/><circle cx="301.9" cy="180.8" r="2.35"/><circle cx="302.3" cy="181.4" r="2.35"/><circle cx="303.4" cy="181.3" r="2.35"/><circle cx="303.8" cy="180.8" r="2.35"/><circle cx="304.4" cy="182.3" r="2.35"/><circle cx="304.3" cy="182.1" r="2.35"/><circle cx="305.5" cy="183.4" r="2.35"/><circle cx="306.0" cy="183.6" r="2.35"/><circle cx="306.5" cy="184.4" r="2.35"/><circle cx="306.4" cy="184.2" r="2.35"/><circle cx="307.6" cy="186.5" r="2.35"/><circle cx="307.3" cy="185.3" r="2.35"/><circle cx="308.6" cy="188.6" r="2.35"/><circle cx="308.2" cy="189.5" r="2.35"/><circle cx="310.1" cy="188.2" r="2.35"/><circle cx="309.9" cy="189.3" r="2.35"/><circle cx="311.7" cy="187.8" r="2.35"/><circle cx="311.4" cy="187.2" r="2.35"/><circle cx="313.2" cy="187.5" r="2.35"/><circle cx="313.2" cy="186.7" r="2.35"/><circle cx="314.8" cy="187.5" r="2.35"/><circle cx="314.6" cy="188.7" r="2.35"/><circle cx="316.3" cy="186.3" r="2.35"/><circle cx="316.7" cy="187.1" r="2.35"/><circle cx="316.9" cy="185.0" r="2.35"/><circle cx="317.0" cy="186.1" r="2.35"/><circle cx="317.4" cy="183.8" r="2.35"/><circle cx="317.9" cy="183.9" r="2.35"/><circle cx="318.0" cy="182.5" r="2.35"/><circle cx="318.2" cy="181.4" r="2.35"/><circle cx="318.5" cy="181.3" r="2.35"/><circle cx="318.7" cy="181.2" r="2.35"/><circle cx="318.9" cy="183.4" r="2.35"/><circle cx="319.2" cy="183.8" r="2.35"/><circle cx="319.4" cy="185.4" r="2.35"/><circle cx="319.2" cy="184.3" r="2.35"/><circle cx="319.9" cy="187.5" r="2.35"/><circle cx="320.3" cy="186.6" r="2.35"/><circle cx="320.3" cy="189.6" r="2.35"/><circle cx="320.3" cy="189.2" r="2.35"/><circle cx="321.4" cy="188.0" r="2.35"/><circle cx="321.2" cy="188.6" r="2.35"/><circle cx="322.5" cy="186.3" r="2.35"/><circle cx="322.9" cy="185.7" r="2.35"/><circle cx="323.5" cy="184.1" r="2.35"/><circle cx="323.7" cy="183.6" r="2.35"/><circle cx="324.0" cy="182.7" r="2.35"/><circle cx="324.1" cy="182.5" r="2.35"/><circle cx="324.6" cy="181.3" r="2.35"/><circle cx="324.2" cy="180.5" r="2.35"/><circle cx="325.1" cy="180.0" r="2.35"/><circle cx="324.8" cy="181.0" r="2.35"/><circle cx="325.6" cy="178.6" r="2.35"/><circle cx="325.6" cy="177.9" r="2.35"/><circle cx="326.1" cy="177.2" r="2.35"/><circle cx="326.5" cy="178.5" r="2.35"/><circle cx="327.6" cy="177.8" r="2.35"/><circle cx="327.5" cy="176.9" r="2.35"/><circle cx="329.1" cy="180.3" r="2.35"/><circle cx="328.8" cy="179.2" r="2.35"/><circle cx="329.7" cy="182.4" r="2.35"/><circle cx="329.5" cy="181.3" r="2.35"/><circle cx="330.2" cy="184.4" r="2.35"/><circle cx="330.0" cy="183.8" r="2.35"/><circle cx="330.8" cy="186.5" r="2.35"/><circle cx="330.8" cy="187.5" r="2.35"/><circle cx="331.3" cy="188.6" r="2.35"/><circle cx="331.5" cy="188.4" r="2.35"/><circle cx="331.8" cy="187.1" r="2.35"/><circle cx="331.8" cy="187.2" r="2.35"/><circle cx="332.4" cy="185.7" r="2.35"/><circle cx="332.3" cy="185.3" r="2.35"/><circle cx="332.9" cy="184.2" r="2.35"/><circle cx="332.5" cy="183.6" r="2.35"/><circle cx="333.5" cy="182.8" r="2.35"/><circle cx="333.9" cy="181.8" r="2.35"/><circle cx="334.0" cy="181.3" r="2.35"/><circle cx="334.0" cy="181.6" r="2.35"/><circle cx="334.5" cy="179.9" r="2.35"/><circle cx="334.8" cy="179.1" r="2.35"/><circle cx="335.0" cy="178.4" r="2.35"/><circle cx="334.7" cy="177.8" r="2.35"/><circle cx="335.4" cy="177.0" r="2.35"/><circle cx="335.3" cy="176.8" r="2.35"/><circle cx="335.9" cy="175.5" r="2.35"/><circle cx="336.4" cy="176.4" r="2.35"/><circle cx="336.4" cy="174.1" r="2.35"/><circle cx="336.8" cy="172.9" r="2.35"/><circle cx="337.4" cy="175.1" r="2.35"/><circle cx="337.0" cy="175.7" r="2.35"/><circle cx="338.5" cy="176.2" r="2.35"/><circle cx="338.9" cy="176.1" r="2.35"/><circle cx="339.5" cy="177.2" r="2.35"/><circle cx="339.6" cy="175.9" r="2.35"/><circle cx="340.5" cy="177.9" r="2.35"/><circle cx="340.4" cy="179.0" r="2.35"/><circle cx="341.6" cy="178.6" r="2.35"/><circle cx="341.9" cy="179.5" r="2.35"/><circle cx="342.6" cy="179.3" r="2.35"/><circle cx="343.1" cy="178.6" r="2.35"/><circle cx="344.2" cy="180.1" r="2.35"/><circle cx="343.8" cy="179.2" r="2.35"/><circle cx="345.2" cy="181.3" r="2.35"/><circle cx="345.2" cy="181.8" r="2.35"/><circle cx="346.3" cy="183.4" r="2.35"/><circle cx="346.7" cy="184.0" r="2.35"/><circle cx="347.3" cy="184.1" r="2.35"/><circle cx="347.5" cy="184.8" r="2.35"/><circle cx="348.4" cy="183.4" r="2.35"/><circle cx="348.3" cy="183.5" r="2.35"/><circle cx="349.4" cy="182.7" r="2.35"/><circle cx="348.9" cy="183.5" r="2.35"/><circle cx="350.4" cy="183.7" r="2.35"/><circle cx="350.1" cy="184.8" r="2.35"/><circle cx="350.9" cy="184.9" r="2.35"/><circle cx="351.0" cy="184.4" r="2.35"/><circle cx="351.4" cy="186.2" r="2.35"/><circle cx="351.0" cy="185.6" r="2.35"/><circle cx="351.9" cy="187.5" r="2.35"/><circle cx="352.0" cy="188.0" r="2.35"/><circle cx="352.9" cy="188.2" r="2.35"/><circle cx="352.5" cy="187.1" r="2.35"/><circle cx="354.0" cy="188.9" r="2.35"/><circle cx="354.0" cy="189.1" r="2.35"/><circle cx="355.0" cy="189.6" r="2.35"/><circle cx="354.9" cy="188.9" r="2.35"/><circle cx="356.1" cy="188.6" r="2.35"/><circle cx="356.2" cy="187.3" r="2.35"/><circle cx="357.1" cy="187.5" r="2.35"/><circle cx="356.9" cy="187.4" r="2.35"/><circle cx="358.2" cy="185.7" r="2.35"/><circle cx="358.6" cy="186.0" r="2.35"/><circle cx="359.2" cy="183.8" r="2.35"/><circle cx="359.6" cy="183.8" r="2.35"/><circle cx="360.3" cy="182.0" r="2.35"/><circle cx="360.0" cy="181.3" r="2.35"/><circle cx="361.3" cy="183.4" r="2.35"/><circle cx="361.8" cy="183.9" r="2.35"/><circle cx="362.4" cy="184.8" r="2.35"/><circle cx="362.2" cy="183.6" r="2.35"/><circle cx="363.4" cy="186.2" r="2.35"/><circle cx="363.4" cy="186.7" r="2.35"/><circle cx="364.4" cy="188.3" r="2.35"/><circle cx="364.4" cy="187.6" r="2.35"/><circle cx="365.5" cy="190.3" r="2.35"/><circle cx="365.6" cy="191.4" r="2.35"/><circle cx="366.5" cy="192.4" r="2.35"/><circle cx="366.2" cy="191.2" r="2.35"/><circle cx="367.5" cy="191.0" r="2.35"/><circle cx="367.4" cy="190.8" r="2.35"/><circle cx="368.6" cy="189.6" r="2.35"/><circle cx="368.7" cy="188.8" r="2.35"/><circle cx="369.6" cy="188.2" r="2.35"/><circle cx="369.9" cy="188.8" r="2.35"/><circle cx="370.1" cy="190.3" r="2.35"/><circle cx="370.1" cy="189.5" r="2.35"/><circle cx="370.6" cy="192.3" r="2.35"/><circle cx="371.1" cy="191.9" r="2.35"/><circle cx="371.2" cy="194.4" r="2.35"/><circle cx="371.5" cy="193.7" r="2.35"/><circle cx="371.7" cy="196.5" r="2.35"/><circle cx="371.4" cy="197.2" r="2.35"/><circle cx="372.7" cy="197.5" r="2.35"/><circle cx="372.5" cy="198.7" r="2.35"/><circle cx="373.8" cy="198.6" r="2.35"/><circle cx="373.8" cy="197.8" r="2.35"/><circle cx="374.8" cy="199.6" r="2.35"/><circle cx="374.5" cy="199.4" r="2.35"/><circle cx="375.8" cy="198.6" r="2.35"/><circle cx="376.0" cy="199.7" r="2.35"/><circle cx="376.9" cy="197.5" r="2.35"/><circle cx="376.5" cy="197.3" r="2.35"/><circle cx="377.9" cy="196.5" r="2.35"/><circle cx="377.6" cy="197.7" r="2.35"/><circle cx="378.4" cy="197.7" r="2.35"/><circle cx="378.1" cy="196.5" r="2.35"/><circle cx="378.9" cy="198.9" r="2.35"/><circle cx="378.5" cy="198.6" r="2.35"/><circle cx="379.4" cy="200.1" r="2.35"/><circle cx="379.8" cy="201.1" r="2.35"/><circle cx="380.0" cy="201.3" r="2.35"/><circle cx="380.2" cy="202.6" r="2.35"/><circle cx="380.5" cy="202.5" r="2.35"/><circle cx="380.9" cy="202.1" r="2.35"/><circle cx="381.0" cy="203.7" r="2.35"/><circle cx="380.7" cy="204.8" r="2.35"/><circle cx="382.0" cy="202.0" r="2.35"/><circle cx="382.3" cy="200.8" r="2.35"/><circle cx="383.1" cy="200.3" r="2.35"/><circle cx="383.2" cy="200.0" r="2.35"/><circle cx="384.1" cy="198.6" r="2.35"/><circle cx="384.0" cy="198.2" r="2.35"/><circle cx="385.1" cy="197.2" r="2.35"/><circle cx="384.8" cy="195.9" r="2.35"/><circle cx="386.2" cy="195.8" r="2.35"/><circle cx="385.9" cy="195.4" r="2.35"/><circle cx="387.2" cy="194.4" r="2.35"/><circle cx="387.7" cy="193.4" r="2.35"/><circle cx="388.8" cy="194.9" r="2.35"/><circle cx="389.2" cy="194.2" r="2.35"/><circle cx="390.3" cy="195.5" r="2.35"/><circle cx="390.2" cy="196.3" r="2.35"/><circle cx="391.4" cy="197.6" r="2.35"/><circle cx="391.7" cy="197.4" r="2.35"/><circle cx="392.4" cy="199.6" r="2.35"/><circle cx="391.9" cy="199.5" r="2.35"/><circle cx="392.9" cy="201.4" r="2.35"/><circle cx="392.8" cy="202.5" r="2.35"/><circle cx="393.4" cy="203.2" r="2.35"/><circle cx="393.1" cy="202.8" r="2.35"/><circle cx="393.9" cy="205.0" r="2.35"/><circle cx="394.3" cy="203.8" r="2.35"/><circle cx="394.4" cy="206.8" r="2.35"/><circle cx="394.3" cy="207.6" r="2.35"/><circle cx="395.4" cy="205.4" r="2.35"/><circle cx="395.7" cy="204.2" r="2.35"/><circle cx="396.5" cy="204.1" r="2.35"/><circle cx="396.0" cy="202.9" r="2.35"/><circle cx="397.5" cy="202.7" r="2.35"/><circle cx="397.9" cy="202.1" r="2.35"/><circle cx="398.5" cy="201.0" r="2.35"/><circle cx="398.8" cy="202.0" r="2.35"/><circle cx="399.6" cy="199.2" r="2.35"/><circle cx="399.4" cy="198.6" r="2.35"/><circle cx="400.6" cy="197.5" r="2.35"/><circle cx="401.1" cy="197.8" r="2.35"/><circle cx="401.6" cy="195.6" r="2.35"/><circle cx="401.4" cy="196.2" r="2.35"/><circle cx="402.6" cy="193.7" r="2.35"/><circle cx="402.4" cy="193.1" r="2.35"/><circle cx="403.6" cy="191.8" r="2.35"/><circle cx="403.1" cy="192.5" r="2.35"/><circle cx="405.2" cy="192.7" r="2.35"/><circle cx="405.6" cy="193.1" r="2.35"/><circle cx="406.3" cy="194.6" r="2.35"/><circle cx="406.7" cy="193.3" r="2.35"/><circle cx="407.4" cy="198.9" r="2.35"/><circle cx="407.1" cy="198.9" r="2.35"/><circle cx="407.9" cy="202.4" r="2.35"/><circle cx="408.4" cy="203.5" r="2.35"/><circle cx="408.5" cy="205.8" r="2.35"/><circle cx="408.4" cy="205.2" r="2.35"/><circle cx="409.5" cy="207.0" r="2.35"/><circle cx="409.4" cy="207.0" r="2.35"/><circle cx="410.5" cy="208.3" r="2.35"/><circle cx="410.9" cy="207.5" r="2.35"/><circle cx="412.0" cy="208.2" r="2.35"/><circle cx="412.3" cy="208.8" r="2.35"/><circle cx="413.0" cy="207.5" r="2.35"/><circle cx="413.3" cy="208.2" r="2.35"/><circle cx="414.0" cy="206.8" r="2.35"/><circle cx="414.1" cy="206.4" r="2.35"/><circle cx="414.5" cy="205.0" r="2.35"/><circle cx="414.3" cy="204.6" r="2.35"/><circle cx="415.1" cy="203.2" r="2.35"/><circle cx="415.3" cy="202.1" r="2.35"/><circle cx="415.6" cy="201.4" r="2.35"/><circle cx="415.3" cy="202.1" r="2.35"/><circle cx="416.1" cy="199.6" r="2.35"/><circle cx="415.8" cy="198.5" r="2.35"/><circle cx="417.7" cy="200.3" r="2.35"/><circle cx="417.2" cy="200.5" r="2.35"/><circle cx="418.7" cy="202.4" r="2.35"/><circle cx="418.5" cy="203.7" r="2.35"/><circle cx="419.2" cy="204.2" r="2.35"/><circle cx="419.6" cy="205.5" r="2.35"/><circle cx="419.7" cy="206.1" r="2.35"/><circle cx="419.5" cy="205.0" r="2.35"/><circle cx="420.2" cy="207.9" r="2.35"/><circle cx="419.8" cy="207.9" r="2.35"/><circle cx="420.7" cy="205.8" r="2.35"/><circle cx="420.9" cy="205.7" r="2.35"/><circle cx="421.2" cy="203.8" r="2.35"/><circle cx="421.0" cy="203.5" r="2.35"/><circle cx="421.8" cy="201.7" r="2.35"/><circle cx="421.9" cy="202.1" r="2.35"/><circle cx="422.3" cy="199.6" r="2.35"/><circle cx="422.5" cy="200.5" r="2.35"/><circle cx="423.4" cy="197.6" r="2.35"/><circle cx="423.5" cy="196.6" r="2.35"/><circle cx="424.4" cy="195.5" r="2.35"/><circle cx="424.7" cy="195.0" r="2.35"/><circle cx="425.4" cy="196.2" r="2.35"/><circle cx="425.5" cy="195.8" r="2.35"/><circle cx="426.5" cy="196.8" r="2.35"/><circle cx="426.7" cy="196.1" r="2.35"/><circle cx="427.5" cy="197.5" r="2.35"/><circle cx="427.2" cy="196.8" r="2.35"/><circle cx="428.5" cy="198.2" r="2.35"/><circle cx="428.2" cy="199.2" r="2.35"/><circle cx="429.6" cy="198.9" r="2.35"/><circle cx="429.6" cy="198.4" r="2.35"/><circle cx="430.6" cy="199.6" r="2.35"/><circle cx="430.5" cy="200.9" r="2.35"/><circle cx="431.6" cy="200.6" r="2.35"/><circle cx="431.6" cy="199.9" r="2.35"/><circle cx="432.7" cy="201.7" r="2.35"/><circle cx="433.0" cy="202.1" r="2.35"/><circle cx="433.7" cy="202.7" r="2.35"/><circle cx="434.2" cy="201.7" r="2.35"/><circle cx="434.2" cy="204.1" r="2.35"/><circle cx="434.2" cy="204.9" r="2.35"/><circle cx="434.7" cy="205.5" r="2.35"/><circle cx="435.1" cy="206.5" r="2.35"/><circle cx="435.2" cy="206.8" r="2.35"/><circle cx="434.8" cy="206.3" r="2.35"/><circle cx="435.8" cy="208.2" r="2.35"/><circle cx="435.4" cy="207.4" r="2.35"/><circle cx="436.3" cy="209.6" r="2.35"/><circle cx="436.8" cy="209.8" r="2.35"/><circle cx="436.8" cy="211.0" r="2.35"/><circle cx="437.2" cy="210.7" r="2.35"/><circle cx="437.8" cy="210.0" r="2.35"/><circle cx="438.2" cy="209.8" r="2.35"/><circle cx="438.9" cy="208.9" r="2.35"/><circle cx="438.6" cy="209.7" r="2.35"/><circle cx="439.9" cy="207.9" r="2.35"/><circle cx="440.3" cy="206.9" r="2.35"/><circle cx="440.9" cy="207.2" r="2.35"/><circle cx="441.0" cy="207.5" r="2.35"/><circle cx="442.0" cy="206.5" r="2.35"/><circle cx="441.7" cy="206.2" r="2.35"/><circle cx="443.0" cy="205.8" r="2.35"/><circle cx="442.6" cy="205.0" r="2.35"/><circle cx="443.6" cy="203.2" r="2.35"/><circle cx="443.3" cy="203.5" r="2.35"/><circle cx="444.1" cy="200.7" r="2.35"/><circle cx="444.3" cy="199.9" r="2.35"/><circle cx="444.6" cy="198.1" r="2.35"/><circle cx="444.2" cy="197.6" r="2.35"/><circle cx="445.2" cy="195.5" r="2.35"/><circle cx="445.4" cy="194.7" r="2.35"/><circle cx="445.7" cy="193.4" r="2.35"/><circle cx="445.5" cy="192.7" r="2.35"/><circle cx="446.2" cy="191.3" r="2.35"/><circle cx="446.5" cy="191.5" r="2.35"/><circle cx="446.7" cy="189.3" r="2.35"/><circle cx="446.3" cy="188.2" r="2.35"/><circle cx="447.2" cy="187.2" r="2.35"/><circle cx="447.1" cy="187.3" r="2.35"/><circle cx="447.7" cy="185.4" r="2.35"/><circle cx="447.9" cy="184.3" r="2.35"/><circle cx="448.2" cy="183.6" r="2.35"/><circle cx="447.9" cy="184.1" r="2.35"/><circle cx="448.8" cy="181.8" r="2.35"/><circle cx="448.7" cy="181.2" r="2.35"/><circle cx="449.3" cy="180.0" r="2.35"/><circle cx="449.1" cy="181.2" r="2.35"/><circle cx="450.9" cy="180.5" r="2.35"/><circle cx="450.7" cy="180.7" r="2.35"/><circle cx="452.4" cy="181.0" r="2.35"/><circle cx="452.3" cy="180.8" r="2.35"/><circle cx="453.4" cy="178.9" r="2.35"/><circle cx="453.8" cy="180.2" r="2.35"/><circle cx="454.5" cy="176.9" r="2.35"/><circle cx="454.4" cy="176.1" r="2.35"/><circle cx="455.5" cy="176.2" r="2.35"/><circle cx="455.8" cy="175.4" r="2.35"/><circle cx="456.6" cy="175.5" r="2.35"/><circle cx="456.1" cy="176.5" r="2.35"/><circle cx="457.6" cy="174.8" r="2.35"/><circle cx="457.5" cy="175.6" r="2.35"/><circle cx="458.6" cy="176.9" r="2.35"/><circle cx="458.5" cy="177.9" r="2.35"/><circle cx="459.7" cy="178.9" r="2.35"/><circle cx="459.6" cy="178.1" r="2.35"/><circle cx="460.7" cy="181.0" r="2.35"/><circle cx="460.2" cy="181.1" r="2.35"/><circle cx="461.7" cy="182.7" r="2.35"/><circle cx="461.9" cy="183.8" r="2.35"/><circle cx="462.8" cy="184.5" r="2.35"/><circle cx="462.4" cy="184.8" r="2.35"/><circle cx="463.8" cy="186.2" r="2.35"/><circle cx="463.7" cy="186.2" r="2.35"/><circle cx="464.3" cy="187.5" r="2.35"/><circle cx="463.9" cy="186.9" r="2.35"/><circle cx="464.8" cy="188.8" r="2.35"/><circle cx="464.8" cy="189.9" r="2.35"/><circle cx="465.3" cy="190.0" r="2.35"/><circle cx="464.9" cy="190.0" r="2.35"/><circle cx="465.8" cy="191.3" r="2.35"/><circle cx="466.1" cy="192.5" r="2.35"/><circle cx="467.4" cy="191.9" r="2.35"/><circle cx="467.0" cy="190.9" r="2.35"/><circle cx="468.9" cy="192.4" r="2.35"/><circle cx="469.3" cy="193.6" r="2.35"/><circle cx="469.4" cy="193.9" r="2.35"/><circle cx="469.4" cy="192.8" r="2.35"/><circle cx="469.9" cy="195.5" r="2.35"/><circle cx="470.4" cy="195.2" r="2.35"/><circle cx="470.5" cy="197.1" r="2.35"/><circle cx="470.9" cy="197.4" r="2.35"/><circle cx="471.0" cy="198.6" r="2.35"/><circle cx="471.3" cy="197.7" r="2.35"/><circle cx="471.5" cy="200.7" r="2.35"/><circle cx="471.8" cy="199.9" r="2.35"/><circle cx="472.1" cy="202.7" r="2.35"/><circle cx="472.0" cy="203.6" r="2.35"/><circle cx="472.6" cy="204.8" r="2.35"/><circle cx="472.9" cy="204.0" r="2.35"/><circle cx="473.1" cy="208.4" r="2.35"/><circle cx="472.8" cy="208.1" r="2.35"/><circle cx="473.5" cy="212.0" r="2.35"/><circle cx="473.5" cy="211.7" r="2.35"/><circle cx="473.1" cy="219.2" r="2.35"/><circle cx="472.7" cy="218.5" r="2.35"/><circle cx="474.1" cy="218.2" r="2.35"/><circle cx="474.4" cy="219.2" r="2.35"/><circle cx="475.2" cy="217.1" r="2.35"/><circle cx="474.7" cy="217.3" r="2.35"/><circle cx="476.2" cy="216.1" r="2.35"/><circle cx="476.5" cy="214.9" r="2.35"/><circle cx="477.2" cy="215.1" r="2.35"/><circle cx="477.6" cy="214.1" r="2.35"/><circle cx="478.3" cy="214.0" r="2.35"/><circle cx="478.4" cy="214.2" r="2.35"/><circle cx="479.3" cy="213.0" r="2.35"/><circle cx="479.4" cy="212.5" r="2.35"/><circle cx="479.8" cy="210.7" r="2.35"/><circle cx="479.7" cy="210.9" r="2.35"/><circle cx="480.3" cy="208.3" r="2.35"/><circle cx="480.2" cy="208.8" r="2.35"/><circle cx="480.8" cy="206.0" r="2.35"/><circle cx="480.7" cy="205.9" r="2.35"/><circle cx="481.3" cy="203.7" r="2.35"/><circle cx="480.8" cy="204.0" r="2.35"/><circle cx="482.4" cy="201.6" r="2.35"/><circle cx="482.3" cy="201.0" r="2.35"/><circle cx="483.4" cy="199.6" r="2.35"/><circle cx="483.7" cy="200.3" r="2.35"/><circle cx="484.4" cy="200.3" r="2.35"/><circle cx="484.4" cy="199.5" r="2.35"/><circle cx="485.5" cy="201.0" r="2.35"/><circle cx="485.4" cy="200.0" r="2.35"/><circle cx="486.5" cy="201.7" r="2.35"/><circle cx="486.1" cy="201.5" r="2.35"/><circle cx="487.5" cy="202.4" r="2.35"/><circle cx="487.1" cy="202.2" r="2.35"/><circle cx="488.6" cy="203.0" r="2.35"/><circle cx="488.6" cy="201.8" r="2.35"/><circle cx="489.6" cy="203.7" r="2.35"/><circle cx="489.7" cy="202.6" r="2.35"/><circle cx="490.6" cy="204.7" r="2.35"/><circle cx="490.9" cy="205.5" r="2.35"/><circle cx="491.7" cy="205.8" r="2.35"/><circle cx="491.7" cy="204.6" r="2.35"/><circle cx="492.7" cy="206.8" r="2.35"/><circle cx="492.7" cy="206.5" r="2.35"/><circle cx="493.7" cy="208.5" r="2.35"/><circle cx="494.2" cy="207.6" r="2.35"/><circle cx="494.8" cy="210.3" r="2.35"/><circle cx="495.1" cy="211.6" r="2.35"/><circle cx="495.8" cy="212.0" r="2.35"/><circle cx="496.0" cy="212.8" r="2.35"/><circle cx="496.8" cy="210.3" r="2.35"/><circle cx="496.5" cy="211.5" r="2.35"/><circle cx="497.9" cy="208.5" r="2.35"/><circle cx="497.9" cy="209.7" r="2.35"/><circle cx="498.9" cy="206.8" r="2.35"/><circle cx="499.3" cy="205.9" r="2.35"/><circle cx="499.4" cy="205.6" r="2.35"/><circle cx="499.7" cy="206.7" r="2.35"/><circle cx="499.9" cy="204.4" r="2.35"/><circle cx="499.5" cy="204.0" r="2.35"/><circle cx="500.4" cy="203.2" r="2.35"/><circle cx="500.7" cy="202.3" r="2.35"/><circle cx="501.0" cy="202.0" r="2.35"/><circle cx="501.4" cy="201.4" r="2.35"/><circle cx="501.5" cy="200.8" r="2.35"/><circle cx="501.8" cy="199.9" r="2.35"/><circle cx="502.0" cy="199.6" r="2.35"/><circle cx="502.0" cy="200.7" r="2.35"/><circle cx="503.0" cy="197.5" r="2.35"/><circle cx="502.7" cy="196.9" r="2.35"/><circle cx="504.1" cy="195.5" r="2.35"/><circle cx="504.1" cy="195.0" r="2.35"/><circle cx="505.1" cy="193.4" r="2.35"/><circle cx="504.6" cy="192.6" r="2.35"/><circle cx="506.1" cy="194.4" r="2.35"/><circle cx="505.8" cy="195.6" r="2.35"/><circle cx="507.2" cy="195.5" r="2.35"/><circle cx="507.3" cy="196.5" r="2.35"/><circle cx="508.2" cy="196.5" r="2.35"/><circle cx="507.9" cy="197.2" r="2.35"/><circle cx="509.2" cy="197.2" r="2.35"/><circle cx="508.8" cy="197.3" r="2.35"/><circle cx="510.3" cy="197.9" r="2.35"/><circle cx="510.4" cy="197.5" r="2.35"/><circle cx="511.3" cy="198.6" r="2.35"/><circle cx="511.7" cy="198.7" r="2.35"/><circle cx="512.9" cy="198.1" r="2.35"/><circle cx="512.9" cy="199.0" r="2.35"/><circle cx="514.4" cy="197.5" r="2.35"/><circle cx="514.0" cy="198.8" r="2.35"/><circle cx="515.4" cy="199.1" r="2.35"/><circle cx="515.6" cy="198.8" r="2.35"/><circle cx="516.5" cy="200.6" r="2.35"/><circle cx="516.7" cy="200.0" r="2.35"/><circle cx="517.5" cy="202.1" r="2.35"/><circle cx="518.0" cy="202.4" r="2.35"/><circle cx="518.5" cy="203.7" r="2.35"/><circle cx="518.4" cy="204.4" r="2.35"/><circle cx="519.5" cy="202.3" r="2.35"/><circle cx="519.5" cy="201.5" r="2.35"/><circle cx="520.6" cy="201.0" r="2.35"/><circle cx="520.8" cy="199.8" r="2.35"/><circle cx="521.6" cy="199.6" r="2.35"/><circle cx="521.9" cy="199.0" r="2.35"/><circle cx="522.6" cy="198.9" r="2.35"/><circle cx="522.8" cy="200.2" r="2.35"/><circle cx="523.7" cy="198.2" r="2.35"/><circle cx="523.8" cy="198.6" r="2.35"/><circle cx="524.7" cy="197.5" r="2.35"/><circle cx="524.5" cy="196.2" r="2.35"/><circle cx="525.7" cy="199.2" r="2.35"/><circle cx="525.3" cy="198.3" r="2.35"/><circle cx="526.8" cy="201.0" r="2.35"/><circle cx="526.9" cy="200.8" r="2.35"/><circle cx="527.8" cy="202.7" r="2.35"/><circle cx="527.8" cy="203.7" r="2.35"/><circle cx="529.3" cy="202.2" r="2.35"/><circle cx="529.0" cy="201.5" r="2.35"/><circle cx="530.9" cy="201.7" r="2.35"/><circle cx="531.1" cy="200.5" r="2.35"/><circle cx="532.5" cy="201.1" r="2.35"/><circle cx="532.0" cy="200.8" r="2.35"/><circle cx="534.0" cy="200.6" r="2.35"/><circle cx="533.6" cy="200.2" r="2.35"/><circle cx="535.1" cy="199.9" r="2.35"/><circle cx="534.8" cy="200.2" r="2.35"/><circle cx="536.1" cy="199.3" r="2.35"/><circle cx="536.2" cy="198.5" r="2.35"/><circle cx="537.2" cy="198.6" r="2.35"/><circle cx="537.3" cy="198.5" r="2.35"/><circle cx="538.2" cy="197.1" r="2.35"/><circle cx="537.9" cy="198.2" r="2.35"/><circle cx="539.3" cy="195.5" r="2.35"/><circle cx="539.0" cy="194.6" r="2.35"/><circle cx="540.3" cy="194.7" r="2.35"/><circle cx="539.9" cy="195.0" r="2.35"/><circle cx="541.4" cy="193.8" r="2.35"/><circle cx="541.7" cy="194.6" r="2.35"/><circle cx="542.4" cy="193.0" r="2.35"/><circle cx="542.3" cy="192.4" r="2.35"/><circle cx="542.9" cy="194.1" r="2.35"/><circle cx="542.4" cy="194.5" r="2.35"/><circle cx="543.5" cy="195.2" r="2.35"/><circle cx="543.5" cy="194.9" r="2.35"/><circle cx="544.0" cy="196.4" r="2.35"/><circle cx="544.1" cy="196.2" r="2.35"/><circle cx="544.5" cy="197.5" r="2.35"/><circle cx="544.9" cy="198.1" r="2.35"/><circle cx="545.0" cy="201.2" r="2.35"/><circle cx="544.7" cy="202.2" r="2.35"/><circle cx="545.5" cy="204.8" r="2.35"/><circle cx="545.0" cy="204.9" r="2.35"/><circle cx="546.0" cy="203.2" r="2.35"/><circle cx="545.9" cy="202.6" r="2.35"/><circle cx="546.5" cy="201.7" r="2.35"/><circle cx="546.1" cy="202.4" r="2.35"/><circle cx="547.1" cy="200.2" r="2.35"/><circle cx="546.6" cy="200.3" r="2.35"/><circle cx="547.6" cy="198.6" r="2.35"/><circle cx="548.0" cy="197.7" r="2.35"/><circle cx="548.1" cy="200.9" r="2.35"/><circle cx="547.8" cy="201.2" r="2.35"/><circle cx="548.6" cy="203.2" r="2.35"/><circle cx="548.6" cy="203.6" r="2.35"/><circle cx="549.1" cy="205.6" r="2.35"/><circle cx="549.4" cy="204.7" r="2.35"/><circle cx="549.6" cy="207.9" r="2.35"/><circle cx="549.4" cy="207.4" r="2.35"/><circle cx="550.1" cy="206.1" r="2.35"/><circle cx="549.7" cy="207.1" r="2.35"/><circle cx="550.7" cy="204.2" r="2.35"/><circle cx="550.9" cy="204.8" r="2.35"/><circle cx="551.2" cy="202.4" r="2.35"/><circle cx="550.7" cy="203.3" r="2.35"/><circle cx="551.7" cy="200.6" r="2.35"/><circle cx="551.9" cy="200.5" r="2.35"/><circle cx="552.8" cy="202.1" r="2.35"/><circle cx="553.0" cy="202.0" r="2.35"/><circle cx="553.8" cy="203.7" r="2.35"/><circle cx="553.5" cy="202.7" r="2.35"/><circle cx="554.8" cy="201.6" r="2.35"/><circle cx="554.5" cy="200.5" r="2.35"/><circle cx="555.8" cy="199.6" r="2.35"/><circle cx="555.6" cy="200.2" r="2.35"/><circle cx="556.8" cy="198.9" r="2.35"/><circle cx="557.0" cy="199.8" r="2.35"/><circle cx="557.9" cy="198.2" r="2.35"/><circle cx="558.1" cy="197.6" r="2.35"/><circle cx="558.9" cy="197.5" r="2.35"/><circle cx="559.0" cy="197.3" r="2.35"/><circle cx="560.0" cy="199.6" r="2.35"/><circle cx="560.2" cy="199.7" r="2.35"/><circle cx="561.0" cy="201.7" r="2.35"/><circle cx="560.8" cy="202.1" r="2.35"/><circle cx="562.0" cy="202.7" r="2.35"/><circle cx="562.5" cy="202.0" r="2.35"/><circle cx="563.1" cy="203.7" r="2.35"/><circle cx="563.5" cy="202.4" r="2.35"/><circle cx="563.6" cy="202.4" r="2.35"/><circle cx="563.4" cy="201.7" r="2.35"/><circle cx="564.1" cy="201.1" r="2.35"/><circle cx="564.3" cy="202.3" r="2.35"/><circle cx="564.6" cy="199.9" r="2.35"/><circle cx="564.8" cy="199.4" r="2.35"/><circle cx="565.1" cy="198.6" r="2.35"/><circle cx="565.5" cy="198.2" r="2.35"/><circle cx="566.1" cy="197.6" r="2.35"/><circle cx="565.9" cy="198.6" r="2.35"/><circle cx="567.2" cy="196.5" r="2.35"/><circle cx="567.3" cy="197.0" r="2.35"/><circle cx="568.2" cy="195.5" r="2.35"/><circle cx="568.4" cy="196.7" r="2.35"/><circle cx="569.8" cy="196.0" r="2.35"/><circle cx="569.7" cy="196.9" r="2.35"/><circle cx="571.3" cy="196.5" r="2.35"/><circle cx="571.5" cy="197.4" r="2.35"/><circle cx="571.8" cy="202.7" r="2.35"/><circle cx="571.8" cy="203.3" r="2.35"/><circle cx="572.4" cy="208.9" r="2.35"/><circle cx="572.5" cy="208.4" r="2.35"/><circle cx="573.4" cy="207.9" r="2.35"/><circle cx="573.1" cy="208.2" r="2.35"/><circle cx="574.4" cy="206.8" r="2.35"/><circle cx="574.0" cy="207.9" r="2.35"/><circle cx="575.5" cy="208.4" r="2.35"/><circle cx="575.1" cy="207.1" r="2.35"/><circle cx="576.5" cy="209.9" r="2.35"/><circle cx="576.1" cy="211.0" r="2.35"/><circle cx="577.0" cy="212.3" r="2.35"/><circle cx="576.8" cy="211.4" r="2.35"/><circle cx="577.4" cy="214.7" r="2.35"/><circle cx="577.0" cy="213.5" r="2.35"/><circle cx="577.9" cy="217.1" r="2.35"/><circle cx="578.1" cy="217.4" r="2.35"/><circle cx="579.0" cy="215.1" r="2.35"/><circle cx="579.2" cy="215.7" r="2.35"/><circle cx="580.1" cy="213.0" r="2.35"/><circle cx="579.6" cy="213.3" r="2.35"/><circle cx="581.1" cy="210.2" r="2.35"/><circle cx="581.0" cy="211.0" r="2.35"/><circle cx="581.7" cy="208.4" r="2.35"/><circle cx="582.0" cy="209.4" r="2.35"/><circle cx="582.2" cy="206.6" r="2.35"/><circle cx="581.7" cy="207.6" r="2.35"/><circle cx="582.7" cy="204.8" r="2.35"/><circle cx="583.1" cy="206.0" r="2.35"/><circle cx="583.2" cy="203.5" r="2.35"/><circle cx="582.8" cy="202.7" r="2.35"/><circle cx="583.8" cy="202.2" r="2.35"/><circle cx="583.4" cy="201.0" r="2.35"/><circle cx="584.3" cy="200.9" r="2.35"/><circle cx="584.6" cy="201.7" r="2.35"/><circle cx="584.8" cy="199.6" r="2.35"/><circle cx="584.9" cy="200.4" r="2.35"/><circle cx="585.8" cy="198.8" r="2.35"/><circle cx="586.0" cy="198.2" r="2.35"/><circle cx="586.9" cy="197.9" r="2.35"/><circle cx="586.5" cy="196.9" r="2.35"/><circle cx="587.9" cy="197.1" r="2.35"/><circle cx="588.2" cy="196.3" r="2.35"/><circle cx="589.4" cy="197.8" r="2.35"/><circle cx="589.2" cy="197.7" r="2.35"/><circle cx="590.9" cy="198.6" r="2.35"/><circle cx="590.4" cy="198.0" r="2.35"/><circle cx="591.4" cy="199.9" r="2.35"/><circle cx="591.2" cy="200.4" r="2.35"/><circle cx="592.0" cy="201.1" r="2.35"/><circle cx="591.8" cy="200.7" r="2.35"/><circle cx="592.5" cy="202.4" r="2.35"/><circle cx="592.9" cy="202.4" r="2.35"/><circle cx="593.0" cy="203.7" r="2.35"/><circle cx="593.4" cy="204.0" r="2.35"/><circle cx="593.5" cy="205.1" r="2.35"/><circle cx="593.0" cy="204.9" r="2.35"/><circle cx="594.0" cy="206.5" r="2.35"/><circle cx="593.9" cy="207.2" r="2.35"/><circle cx="594.5" cy="207.9" r="2.35"/><circle cx="594.3" cy="208.4" r="2.35"/><circle cx="595.0" cy="206.4" r="2.35"/><circle cx="595.1" cy="205.7" r="2.35"/><circle cx="595.5" cy="205.0" r="2.35"/><circle cx="595.9" cy="203.9" r="2.35"/><circle cx="596.1" cy="203.5" r="2.35"/><circle cx="596.4" cy="202.7" r="2.35"/><circle cx="596.6" cy="202.1" r="2.35"/><circle cx="596.1" cy="201.3" r="2.35"/><circle cx="597.1" cy="200.6" r="2.35"/><circle cx="597.4" cy="201.8" r="2.35"/><circle cx="598.1" cy="198.9" r="2.35"/><circle cx="597.6" cy="198.9" r="2.35"/><circle cx="599.2" cy="197.2" r="2.35"/><circle cx="599.2" cy="198.0" r="2.35"/><circle cx="600.2" cy="195.5" r="2.35"/><circle cx="599.9" cy="195.5" r="2.35"/><circle cx="601.2" cy="194.1" r="2.35"/><circle cx="601.1" cy="195.0" r="2.35"/><circle cx="602.3" cy="192.7" r="2.35"/><circle cx="602.0" cy="193.9" r="2.35"/><circle cx="603.3" cy="191.3" r="2.35"/><circle cx="603.1" cy="190.6" r="2.35"/><circle cx="604.8" cy="191.1" r="2.35"/><circle cx="605.0" cy="191.1" r="2.35"/><circle cx="606.4" cy="190.9" r="2.35"/><circle cx="606.0" cy="191.3" r="2.35"/><circle cx="606.9" cy="192.6" r="2.35"/><circle cx="606.5" cy="193.3" r="2.35"/><circle cx="607.5" cy="194.2" r="2.35"/><circle cx="607.6" cy="194.9" r="2.35"/><circle cx="608.0" cy="195.8" r="2.35"/><circle cx="608.1" cy="195.5" r="2.35"/><circle cx="608.5" cy="197.5" r="2.35"/><circle cx="608.4" cy="197.2" r="2.35"/><circle cx="609.0" cy="202.7" r="2.35"/><circle cx="609.4" cy="201.6" r="2.35"/><circle cx="609.5" cy="207.9" r="2.35"/><circle cx="609.9" cy="206.7" r="2.35"/><circle cx="610.0" cy="205.8" r="2.35"/><circle cx="609.7" cy="205.2" r="2.35"/><circle cx="610.5" cy="203.8" r="2.35"/><circle cx="611.0" cy="203.8" r="2.35"/><circle cx="611.1" cy="201.7" r="2.35"/><circle cx="611.0" cy="202.7" r="2.35"/><circle cx="611.6" cy="199.6" r="2.35"/><circle cx="611.3" cy="199.5" r="2.35"/><circle cx="612.7" cy="198.1" r="2.35"/><circle cx="612.7" cy="198.7" r="2.35"/><circle cx="613.7" cy="196.5" r="2.35"/><circle cx="614.0" cy="196.9" r="2.35"/><circle cx="614.7" cy="197.9" r="2.35"/><circle cx="614.6" cy="197.4" r="2.35"/><circle cx="615.8" cy="199.2" r="2.35"/><circle cx="615.4" cy="200.1" r="2.35"/><circle cx="616.8" cy="200.6" r="2.35"/><circle cx="617.0" cy="201.2" r="2.35"/><circle cx="617.3" cy="202.4" r="2.35"/><circle cx="617.0" cy="202.3" r="2.35"/><circle cx="617.8" cy="204.2" r="2.35"/><circle cx="618.1" cy="204.5" r="2.35"/><circle cx="618.3" cy="206.1" r="2.35"/><circle cx="617.9" cy="206.0" r="2.35"/><circle cx="618.8" cy="207.9" r="2.35"/><circle cx="619.2" cy="207.2" r="2.35"/><circle cx="619.3" cy="209.9" r="2.35"/><circle cx="619.0" cy="209.4" r="2.35"/><circle cx="619.8" cy="212.0" r="2.35"/><circle cx="620.0" cy="212.9" r="2.35"/><circle cx="620.3" cy="214.0" r="2.35"/><circle cx="620.0" cy="213.1" r="2.35"/><circle cx="620.8" cy="212.7" r="2.35"/><circle cx="620.5" cy="212.3" r="2.35"/><circle cx="621.2" cy="211.5" r="2.35"/><circle cx="621.3" cy="210.6" r="2.35"/><circle cx="621.7" cy="210.2" r="2.35"/><circle cx="621.5" cy="209.4" r="2.35"/><circle cx="622.2" cy="208.9" r="2.35"/><circle cx="622.6" cy="209.5" r="2.35"/><circle cx="622.6" cy="207.7" r="2.35"/><circle cx="622.2" cy="208.9" r="2.35"/><circle cx="623.1" cy="206.4" r="2.35"/><circle cx="622.7" cy="206.1" r="2.35"/><circle cx="624.1" cy="205.7" r="2.35"/><circle cx="624.6" cy="206.5" r="2.35"/><circle cx="625.2" cy="205.1" r="2.35"/><circle cx="625.4" cy="204.9" r="2.35"/><circle cx="626.2" cy="204.4" r="2.35"/><circle cx="625.9" cy="204.8" r="2.35"/><circle cx="627.2" cy="203.7" r="2.35"/><circle cx="626.8" cy="202.9" r="2.35"/><circle cx="628.3" cy="203.0" r="2.35"/><circle cx="628.2" cy="201.8" r="2.35"/><circle cx="629.3" cy="202.3" r="2.35"/><circle cx="629.2" cy="203.1" r="2.35"/><circle cx="630.3" cy="200.2" r="2.35"/><circle cx="630.5" cy="200.3" r="2.35"/><circle cx="631.4" cy="198.2" r="2.35"/><circle cx="631.5" cy="198.1" r="2.35"/><circle cx="632.4" cy="196.1" r="2.35"/><circle cx="632.0" cy="196.4" r="2.35"/><circle cx="633.4" cy="194.0" r="2.35"/><circle cx="633.3" cy="194.6" r="2.35"/><circle cx="634.4" cy="194.7" r="2.35"/><circle cx="634.8" cy="194.5" r="2.35"/><circle cx="635.5" cy="195.4" r="2.35"/><circle cx="635.5" cy="196.0" r="2.35"/><circle cx="636.5" cy="196.1" r="2.35"/><circle cx="636.4" cy="195.4" r="2.35"/><circle cx="637.5" cy="194.4" r="2.35"/><circle cx="637.8" cy="195.4" r="2.35"/><circle cx="638.6" cy="192.7" r="2.35"/><circle cx="638.8" cy="193.2" r="2.35"/><circle cx="639.6" cy="191.0" r="2.35"/><circle cx="640.0" cy="191.5" r="2.35"/><circle cx="640.6" cy="190.3" r="2.35"/><circle cx="640.8" cy="190.2" r="2.35"/><circle cx="641.7" cy="189.6" r="2.35"/><circle cx="641.5" cy="189.9" r="2.35"/><circle cx="642.7" cy="188.9" r="2.35"/><circle cx="642.3" cy="188.7" r="2.35"/><circle cx="643.7" cy="187.0" r="2.35"/><circle cx="644.0" cy="187.6" r="2.35"/><circle cx="644.8" cy="185.2" r="2.35"/><circle cx="644.9" cy="184.5" r="2.35"/><circle cx="645.8" cy="183.3" r="2.35"/><circle cx="645.7" cy="183.2" r="2.35"/><circle cx="646.3" cy="184.5" r="2.35"/><circle cx="646.4" cy="184.2" r="2.35"/><circle cx="646.8" cy="185.6" r="2.35"/><circle cx="647.0" cy="186.7" r="2.35"/><circle cx="647.4" cy="186.8" r="2.35"/><circle cx="647.1" cy="187.2" r="2.35"/><circle cx="647.9" cy="187.9" r="2.35"/><circle cx="648.2" cy="187.6" r="2.35"/><circle cx="648.4" cy="189.0" r="2.35"/><circle cx="648.4" cy="190.3" r="2.35"/><circle cx="649.0" cy="190.2" r="2.35"/><circle cx="648.5" cy="190.3" r="2.35"/><circle cx="649.5" cy="191.3" r="2.35"/><circle cx="649.2" cy="192.1" r="2.35"/><circle cx="650.1" cy="192.5" r="2.35"/><circle cx="650.5" cy="192.5" r="2.35"/><circle cx="650.6" cy="193.6" r="2.35"/><circle cx="650.2" cy="193.8" r="2.35"/><circle cx="651.6" cy="191.7" r="2.35"/><circle cx="651.6" cy="192.3" r="2.35"/><circle cx="652.6" cy="189.8" r="2.35"/><circle cx="652.6" cy="190.2" r="2.35"/><circle cx="653.6" cy="188.4" r="2.35"/><circle cx="653.9" cy="188.4" r="2.35"/><circle cx="654.7" cy="187.4" r="2.35"/><circle cx="654.6" cy="188.5" r="2.35"/><circle cx="655.7" cy="186.3" r="2.35"/><circle cx="655.4" cy="186.8" r="2.35"/><circle cx="657.2" cy="187.5" r="2.35"/><circle cx="657.1" cy="188.2" r="2.35"/><circle cx="658.3" cy="189.3" r="2.35"/><circle cx="657.9" cy="190.5" r="2.35"/><circle cx="659.3" cy="191.0" r="2.35"/><circle cx="659.2" cy="189.8" r="2.35"/><circle cx="660.3" cy="189.3" r="2.35"/><circle cx="660.1" cy="189.0" r="2.35"/><circle cx="661.4" cy="187.5" r="2.35"/><circle cx="660.9" cy="187.3" r="2.35"/><circle cx="662.4" cy="185.8" r="2.35"/><circle cx="662.3" cy="186.3" r="2.35"/><circle cx="663.4" cy="185.2" r="2.35"/><circle cx="663.3" cy="184.6" r="2.35"/><circle cx="664.5" cy="184.6" r="2.35"/><circle cx="664.2" cy="185.2" r="2.35"/><circle cx="665.5" cy="183.9" r="2.35"/><circle cx="665.9" cy="184.0" r="2.35"/><circle cx="666.5" cy="183.3" r="2.35"/><circle cx="666.2" cy="184.1" r="2.35"/><circle cx="667.0" cy="184.6" r="2.35"/><circle cx="666.9" cy="183.8" r="2.35"/><circle cx="667.5" cy="185.9" r="2.35"/><circle cx="667.2" cy="186.6" r="2.35"/><circle cx="668.0" cy="187.2" r="2.35"/><circle cx="668.4" cy="187.5" r="2.35"/><circle cx="668.6" cy="188.4" r="2.35"/><circle cx="668.5" cy="188.6" r="2.35"/><circle cx="669.1" cy="189.7" r="2.35"/><circle cx="668.8" cy="190.9" r="2.35"/><circle cx="669.6" cy="191.0" r="2.35"/><circle cx="669.5" cy="191.4" r="2.35"/><circle cx="670.6" cy="190.0" r="2.35"/><circle cx="671.0" cy="190.8" r="2.35"/><circle cx="671.7" cy="188.9" r="2.35"/><circle cx="671.6" cy="188.4" r="2.35"/><circle cx="672.7" cy="187.9" r="2.35"/><circle cx="672.7" cy="186.9" r="2.35"/><circle cx="673.7" cy="187.2" r="2.35"/><circle cx="674.1" cy="186.8" r="2.35"/><circle cx="674.8" cy="186.5" r="2.35"/><circle cx="675.1" cy="185.9" r="2.35"/><circle cx="675.8" cy="185.8" r="2.35"/><circle cx="675.7" cy="185.2" r="2.35"/><circle cx="676.3" cy="187.0" r="2.35"/><circle cx="676.2" cy="186.2" r="2.35"/><circle cx="676.8" cy="188.2" r="2.35"/><circle cx="676.3" cy="188.8" r="2.35"/><circle cx="677.3" cy="189.4" r="2.35"/><circle cx="677.1" cy="188.7" r="2.35"/><circle cx="677.9" cy="190.6" r="2.35"/><circle cx="677.7" cy="190.5" r="2.35"/><circle cx="678.4" cy="191.8" r="2.35"/><circle cx="678.3" cy="192.2" r="2.35"/><circle cx="678.9" cy="193.0" r="2.35"/><circle cx="679.1" cy="192.6" r="2.35"/><circle cx="680.5" cy="193.0" r="2.35"/><circle cx="680.9" cy="193.9" r="2.35"/><circle cx="682.0" cy="193.0" r="2.35"/><circle cx="681.6" cy="193.9" r="2.35"/><circle cx="683.0" cy="192.3" r="2.35"/><circle cx="683.4" cy="193.1" r="2.35"/><circle cx="684.1" cy="191.7" r="2.35"/><circle cx="683.7" cy="192.5" r="2.35"/><circle cx="685.1" cy="191.0" r="2.35"/><circle cx="685.2" cy="189.7" r="2.35"/><circle cx="686.1" cy="190.0" r="2.35"/><circle cx="685.6" cy="191.1" r="2.35"/><circle cx="687.2" cy="188.9" r="2.35"/><circle cx="687.3" cy="188.3" r="2.35"/><circle cx="688.2" cy="187.9" r="2.35"/><circle cx="687.8" cy="187.0" r="2.35"/><circle cx="689.2" cy="189.3" r="2.35"/><circle cx="689.0" cy="190.0" r="2.35"/><circle cx="690.3" cy="190.6" r="2.35"/><circle cx="690.1" cy="189.7" r="2.35"/><circle cx="691.3" cy="192.0" r="2.35"/><circle cx="691.7" cy="192.8" r="2.35"/><circle cx="691.8" cy="190.3" r="2.35"/><circle cx="691.5" cy="191.3" r="2.35"/><circle cx="692.3" cy="188.6" r="2.35"/><circle cx="692.4" cy="189.3" r="2.35"/><circle cx="692.8" cy="186.8" r="2.35"/><circle cx="693.0" cy="187.9" r="2.35"/><circle cx="693.4" cy="185.1" r="2.35"/><circle cx="693.7" cy="186.0" r="2.35"/><circle cx="693.9" cy="183.4" r="2.35"/><circle cx="693.6" cy="183.9" r="2.35"/><circle cx="694.4" cy="181.7" r="2.35"/><circle cx="694.4" cy="182.3" r="2.35"/><circle cx="694.9" cy="180.5" r="2.35"/><circle cx="694.9" cy="181.5" r="2.35"/><circle cx="695.4" cy="179.3" r="2.35"/><circle cx="695.5" cy="178.7" r="2.35"/><circle cx="696.0" cy="178.1" r="2.35"/><circle cx="695.7" cy="177.1" r="2.35"/><circle cx="696.5" cy="176.8" r="2.35"/><circle cx="696.5" cy="175.7" r="2.35"/><circle cx="697.0" cy="175.6" r="2.35"/><circle cx="697.0" cy="174.7" r="2.35"/><circle cx="697.5" cy="174.4" r="2.35"/><circle cx="697.5" cy="174.4" r="2.35"/><circle cx="698.5" cy="175.4" r="2.35"/><circle cx="698.6" cy="176.4" r="2.35"/><circle cx="699.6" cy="176.5" r="2.35"/><circle cx="699.1" cy="177.4" r="2.35"/><circle cx="700.6" cy="177.5" r="2.35"/><circle cx="700.6" cy="177.7" r="2.35"/><circle cx="701.6" cy="179.2" r="2.35"/><circle cx="701.8" cy="180.1" r="2.35"/><circle cx="702.7" cy="181.0" r="2.35"/><circle cx="702.5" cy="180.8" r="2.35"/><circle cx="703.7" cy="182.7" r="2.35"/><circle cx="704.2" cy="181.6" r="2.35"/><circle cx="704.2" cy="181.5" r="2.35"/><circle cx="704.4" cy="181.9" r="2.35"/><circle cx="704.7" cy="180.3" r="2.35"/><circle cx="704.3" cy="180.6" r="2.35"/><circle cx="705.2" cy="179.1" r="2.35"/><circle cx="705.4" cy="180.2" r="2.35"/><circle cx="705.8" cy="177.9" r="2.35"/><circle cx="705.6" cy="179.2" r="2.35"/><circle cx="706.3" cy="176.7" r="2.35"/><circle cx="706.3" cy="176.7" r="2.35"/><circle cx="706.8" cy="175.5" r="2.35"/><circle cx="707.2" cy="174.3" r="2.35"/><circle cx="707.8" cy="176.9" r="2.35"/><circle cx="708.1" cy="177.2" r="2.35"/><circle cx="708.9" cy="178.2" r="2.35"/><circle cx="708.7" cy="179.2" r="2.35"/><circle cx="709.9" cy="179.6" r="2.35"/><circle cx="709.8" cy="179.5" r="2.35"/><circle cx="710.4" cy="180.9" r="2.35"/><circle cx="710.4" cy="181.6" r="2.35"/><circle cx="710.9" cy="182.2" r="2.35"/><circle cx="710.6" cy="182.0" r="2.35"/><circle cx="711.4" cy="183.5" r="2.35"/><circle cx="711.3" cy="183.6" r="2.35"/><circle cx="711.9" cy="184.8" r="2.35"/><circle cx="712.2" cy="184.3" r="2.35"/><circle cx="712.9" cy="184.1" r="2.35"/><circle cx="713.3" cy="183.8" r="2.35"/><circle cx="714.0" cy="183.4" r="2.35"/><circle cx="714.0" cy="182.8" r="2.35"/><circle cx="715.0" cy="182.7" r="2.35"/><circle cx="715.0" cy="183.9" r="2.35"/><circle cx="715.5" cy="179.8" r="2.35"/><circle cx="715.7" cy="180.6" r="2.35"/><circle cx="716.0" cy="177.0" r="2.35"/><circle cx="715.9" cy="176.5" r="2.35"/><circle cx="716.6" cy="174.2" r="2.35"/><circle cx="716.4" cy="174.4" r="2.35"/><circle cx="717.1" cy="171.3" r="2.35"/><circle cx="717.2" cy="172.0" r="2.35"/><circle cx="718.1" cy="169.6" r="2.35"/><circle cx="717.6" cy="170.2" r="2.35"/><circle cx="719.1" cy="167.9" r="2.35"/><circle cx="719.5" cy="168.1" r="2.35"/><circle cx="720.1" cy="166.1" r="2.35"/><circle cx="719.7" cy="165.6" r="2.35"/><circle cx="721.2" cy="164.1" r="2.35"/><circle cx="720.7" cy="163.2" r="2.35"/><circle cx="722.2" cy="162.0" r="2.35"/><circle cx="722.6" cy="162.3" r="2.35"/><circle cx="723.2" cy="160.3" r="2.35"/><circle cx="723.4" cy="161.1" r="2.35"/><circle cx="724.2" cy="158.9" r="2.35"/><circle cx="724.7" cy="159.2" r="2.35"/><circle cx="725.3" cy="157.5" r="2.35"/><circle cx="725.4" cy="157.8" r="2.35"/><circle cx="726.3" cy="156.0" r="2.35"/><circle cx="726.5" cy="156.2" r="2.35"/><circle cx="727.3" cy="154.2" r="2.35"/><circle cx="727.5" cy="153.5" r="2.35"/><circle cx="728.4" cy="152.5" r="2.35"/><circle cx="728.6" cy="152.4" r="2.35"/><circle cx="729.4" cy="150.7" r="2.35"/><circle cx="729.7" cy="149.6" r="2.35"/><circle cx="730.5" cy="148.6" r="2.35"/><circle cx="730.1" cy="147.4" r="2.35"/><circle cx="731.5" cy="146.5" r="2.35"/><circle cx="731.8" cy="147.6" r="2.35"/><circle cx="732.5" cy="143.7" r="2.35"/><circle cx="732.7" cy="143.3" r="2.35"/><circle cx="733.0" cy="141.8" r="2.35"/><circle cx="733.4" cy="142.6" r="2.35"/><circle cx="733.6" cy="140.0" r="2.35"/><circle cx="733.6" cy="139.4" r="2.35"/><circle cx="734.1" cy="138.2" r="2.35"/><circle cx="733.9" cy="138.0" r="2.35"/><circle cx="734.6" cy="136.4" r="2.35"/><circle cx="734.4" cy="136.2" r="2.35"/><circle cx="735.2" cy="134.6" r="2.35"/><circle cx="735.3" cy="135.7" r="2.35"/><circle cx="735.7" cy="132.8" r="2.35"/><circle cx="735.2" cy="133.0" r="2.35"/><circle cx="736.2" cy="131.0" r="2.35"/><circle cx="735.7" cy="130.0" r="2.35"/><circle cx="737.2" cy="128.9" r="2.35"/><circle cx="737.5" cy="129.1" r="2.35"/><circle cx="738.3" cy="126.9" r="2.35"/><circle cx="738.7" cy="126.7" r="2.35"/><circle cx="739.3" cy="124.8" r="2.35"/><circle cx="738.8" cy="124.5" r="2.35"/><circle cx="740.3" cy="123.1" r="2.35"/><circle cx="740.4" cy="124.2" r="2.35"/><circle cx="741.4" cy="121.3" r="2.35"/><circle cx="741.8" cy="121.3" r="2.35"/><circle cx="742.4" cy="119.6" r="2.35"/><circle cx="742.3" cy="118.6" r="2.35"/><circle cx="743.4" cy="117.9" r="2.35"/><circle cx="743.6" cy="117.2" r="2.35"/><circle cx="744.5" cy="116.2" r="2.35"/><circle cx="744.1" cy="114.9" r="2.35"/><circle cx="745.5" cy="114.5" r="2.35"/><circle cx="745.0" cy="115.0" r="2.35"/><circle cx="746.0" cy="113.2" r="2.35"/><circle cx="745.6" cy="114.4" r="2.35"/><circle cx="746.5" cy="111.9" r="2.35"/><circle cx="746.1" cy="112.9" r="2.35"/><circle cx="747.0" cy="110.6" r="2.35"/><circle cx="746.6" cy="109.3" r="2.35"/><circle cx="747.5" cy="109.3" r="2.35"/><circle cx="747.7" cy="108.6" r="2.35"/><circle cx="748.0" cy="107.7" r="2.35"/><circle cx="748.2" cy="106.8" r="2.35"/><circle cx="748.4" cy="106.0" r="2.35"/><circle cx="748.0" cy="106.7" r="2.35"/><circle cx="748.9" cy="104.4" r="2.35"/><circle cx="749.1" cy="105.3" r="2.35"/><circle cx="749.3" cy="102.7" r="2.35"/><circle cx="749.6" cy="101.7" r="2.35"/><circle cx="749.8" cy="101.1" r="2.35"/><circle cx="749.9" cy="101.6" r="2.35"/><circle cx="750.7" cy="99.4" r="2.35"/><circle cx="750.7" cy="100.6" r="2.35"/><circle cx="751.7" cy="97.8" r="2.35"/><circle cx="751.4" cy="99.0" r="2.35"/><circle cx="752.6" cy="96.1" r="2.35"/><circle cx="752.8" cy="94.9" r="2.35"/><circle cx="753.6" cy="94.9" r="2.35"/><circle cx="753.1" cy="95.3" r="2.35"/><circle cx="754.6" cy="94.1" r="2.35"/><circle cx="755.0" cy="93.0" r="2.35"/><circle cx="755.7" cy="93.2" r="2.35"/><circle cx="755.5" cy="93.8" r="2.35"/><circle cx="756.7" cy="92.4" r="2.35"/><circle cx="756.4" cy="93.4" r="2.35"/><circle cx="757.7" cy="90.8" r="2.35"/><circle cx="757.7" cy="89.7" r="2.35"/><circle cx="758.2" cy="89.7" r="2.35"/><circle cx="758.1" cy="89.9" r="2.35"/><circle cx="758.7" cy="88.5" r="2.35"/><circle cx="758.6" cy="89.0" r="2.35"/><circle cx="759.2" cy="87.4" r="2.35"/><circle cx="758.8" cy="88.1" r="2.35"/><circle cx="759.7" cy="86.2" r="2.35"/><circle cx="759.6" cy="86.6" r="2.35"/><circle cx="760.2" cy="84.5" r="2.35"/><circle cx="760.4" cy="84.3" r="2.35"/><circle cx="760.8" cy="82.9" r="2.35"/><circle cx="760.7" cy="83.6" r="2.35"/><circle cx="761.3" cy="81.2" r="2.35"/><circle cx="761.7" cy="81.9" r="2.35"/><circle cx="761.8" cy="79.9" r="2.35"/><circle cx="761.9" cy="79.3" r="2.35"/><circle cx="762.3" cy="78.6" r="2.35"/><circle cx="761.9" cy="79.8" r="2.35"/><circle cx="762.8" cy="77.2" r="2.35"/><circle cx="763.0" cy="78.1" r="2.35"/><circle cx="763.3" cy="75.9" r="2.35"/><circle cx="763.1" cy="76.2" r="2.35"/><circle cx="763.8" cy="74.6" r="2.35"/><circle cx="764.3" cy="75.5" r="2.35"/><circle cx="764.3" cy="73.4" r="2.35"/><circle cx="764.4" cy="72.9" r="2.35"/><circle cx="764.8" cy="72.3" r="2.35"/><circle cx="764.7" cy="73.3" r="2.35"/><circle cx="765.3" cy="71.1" r="2.35"/><circle cx="765.2" cy="71.6" r="2.35"/><circle cx="765.8" cy="70.0" r="2.35"/><circle cx="765.9" cy="71.0" r="2.35"/><circle cx="766.3" cy="68.8" r="2.35"/><circle cx="766.6" cy="68.2" r="2.35"/><circle cx="766.8" cy="67.5" r="2.35"/><circle cx="766.3" cy="66.9" r="2.35"/><circle cx="767.3" cy="66.2" r="2.35"/><circle cx="767.2" cy="66.4" r="2.35"/><circle cx="767.8" cy="64.8" r="2.35"/><circle cx="768.1" cy="65.8" r="2.35"/><circle cx="768.3" cy="63.5" r="2.35"/><circle cx="767.8" cy="64.4" r="2.35"/><circle cx="768.8" cy="62.2" r="2.35"/><circle cx="769.1" cy="63.2" r="2.35"/><circle cx="769.8" cy="60.2" r="2.35"/><circle cx="769.8" cy="59.7" r="2.35"/><circle cx="770.7" cy="58.3" r="2.35"/><circle cx="771.1" cy="59.1" r="2.35"/><circle cx="771.8" cy="56.7" r="2.35"/><circle cx="772.0" cy="57.8" r="2.35"/><circle cx="772.9" cy="55.6" r="2.35"/><circle cx="772.7" cy="54.5" r="2.35"/><circle cx="773.5" cy="58.3" r="2.35"/><circle cx="773.5" cy="59.1" r="2.35"/><circle cx="780.2" cy="172.0" r="2.35"/><circle cx="774.5" cy="68.1" r="2.35"/><circle cx="774.2" cy="78.2" r="2.35"/><circle cx="775.2" cy="86.2" r="2.35"/><circle cx="775.9" cy="90.5" r="2.35"/><circle cx="776.6" cy="100.7" r="2.35"/><circle cx="776.6" cy="112.2" r="2.35"/><circle cx="776.9" cy="122.3" r="2.35"/><circle cx="777.7" cy="129.5" r="2.35"/><circle cx="777.7" cy="136.8" r="2.35"/><circle cx="778.7" cy="144.7" r="2.35"/><circle cx="778.7" cy="156.0" r="2.35"/><circle cx="779.9" cy="164.7" r="2.35"/><circle cx="779.9" cy="171.9" r="2.35"/><circle cx="88.4" cy="187.0" r="2.35"/><circle cx="89.4" cy="185.2" r="2.35"/><circle cx="89.9" cy="177.9" r="2.35"/><circle cx="89.5" cy="168.6" r="2.35"/><circle cx="90.8" cy="162.4" r="2.35"/><circle cx="91.9" cy="155.6" r="2.35"/><circle cx="91.9" cy="151.0" r="2.35"/></g>
<polyline points="780.2,171.3 780.6,199.2 781,330 781.3,348" fill="none" stroke="#0000ff" stroke-width="2.2" stroke-linecap="round"/>
<circle cx="779.9" cy="337.7" r="2.1" fill="#0000ff"/>
<circle cx="781.2" cy="352.9" r="2.5" fill="#0000ff"/>
<polyline points="782,349.7 848,349.7" fill="none" stroke="#0000ff" stroke-width="5.3" stroke-linecap="round"/>
<rect x="779" y="347" width="10" height="6" fill="#0000ff"/>
<line x1="166" y1="23.2" x2="232.2" y2="23.2" stroke="#000" stroke-width="2"/>
<polygon points="157.7,23.2 167,18.4 167,28" fill="#000"/>
<line x1="226" y1="98.2" x2="689" y2="98.2" stroke="#000" stroke-width="2"/>
<polygon points="217.7,98.2 227.1,93.4 227.1,103" fill="#000"/>
<polygon points="697.4,98.2 687.8,93.4 687.8,103" fill="#000"/>
<line x1="667.7" y1="53.1" x2="764" y2="53.1" stroke="#000" stroke-width="2"/>
<polygon points="772.6,53.1 763,48.4 763,57.8" fill="#000"/>
<defs><clipPath id="c1"><rect x="200" y="0" width="200" height="31.5"/></clipPath><clipPath id="c2"><rect x="500" y="30" width="170" height="31.9"/></clipPath><clipPath id="c3"><rect x="350" y="100" width="200" height="22.1"/></clipPath></defs>
<text x="244.8" y="33.2" class="an" clip-path="url(#c1)">Peak Load</text>
<text x="530.5" y="63.7" class="an" clip-path="url(#c2)">Final Peak Load</text>
<text x="380.3" y="123.6" class="an" style="font-size:20.2px" clip-path="url(#c3)">Average Load</text>
<line x1="184.6" y1="427.7" x2="184.6" y2="450" stroke="#ff0000" stroke-width="1.3"/>
<line x1="712.6" y1="427.7" x2="712.6" y2="450" stroke="#ff0000" stroke-width="1.3"/>
<polygon points="185.5,440.2 194.8,435.5 194.8,445.1" fill="#ff0000"/>
<polygon points="711.7,440.2 702.9,435.5 702.9,445.1" fill="#ff0000"/>
<line x1="194" y1="440.2" x2="703" y2="440.2" stroke="#ff0000" stroke-width="2.2" stroke-dasharray="6.6 5.08" stroke-dashoffset="0.88"/>
<text x="381" y="459.9" class="bl">Average load</text>
</svg>
</body></html>
